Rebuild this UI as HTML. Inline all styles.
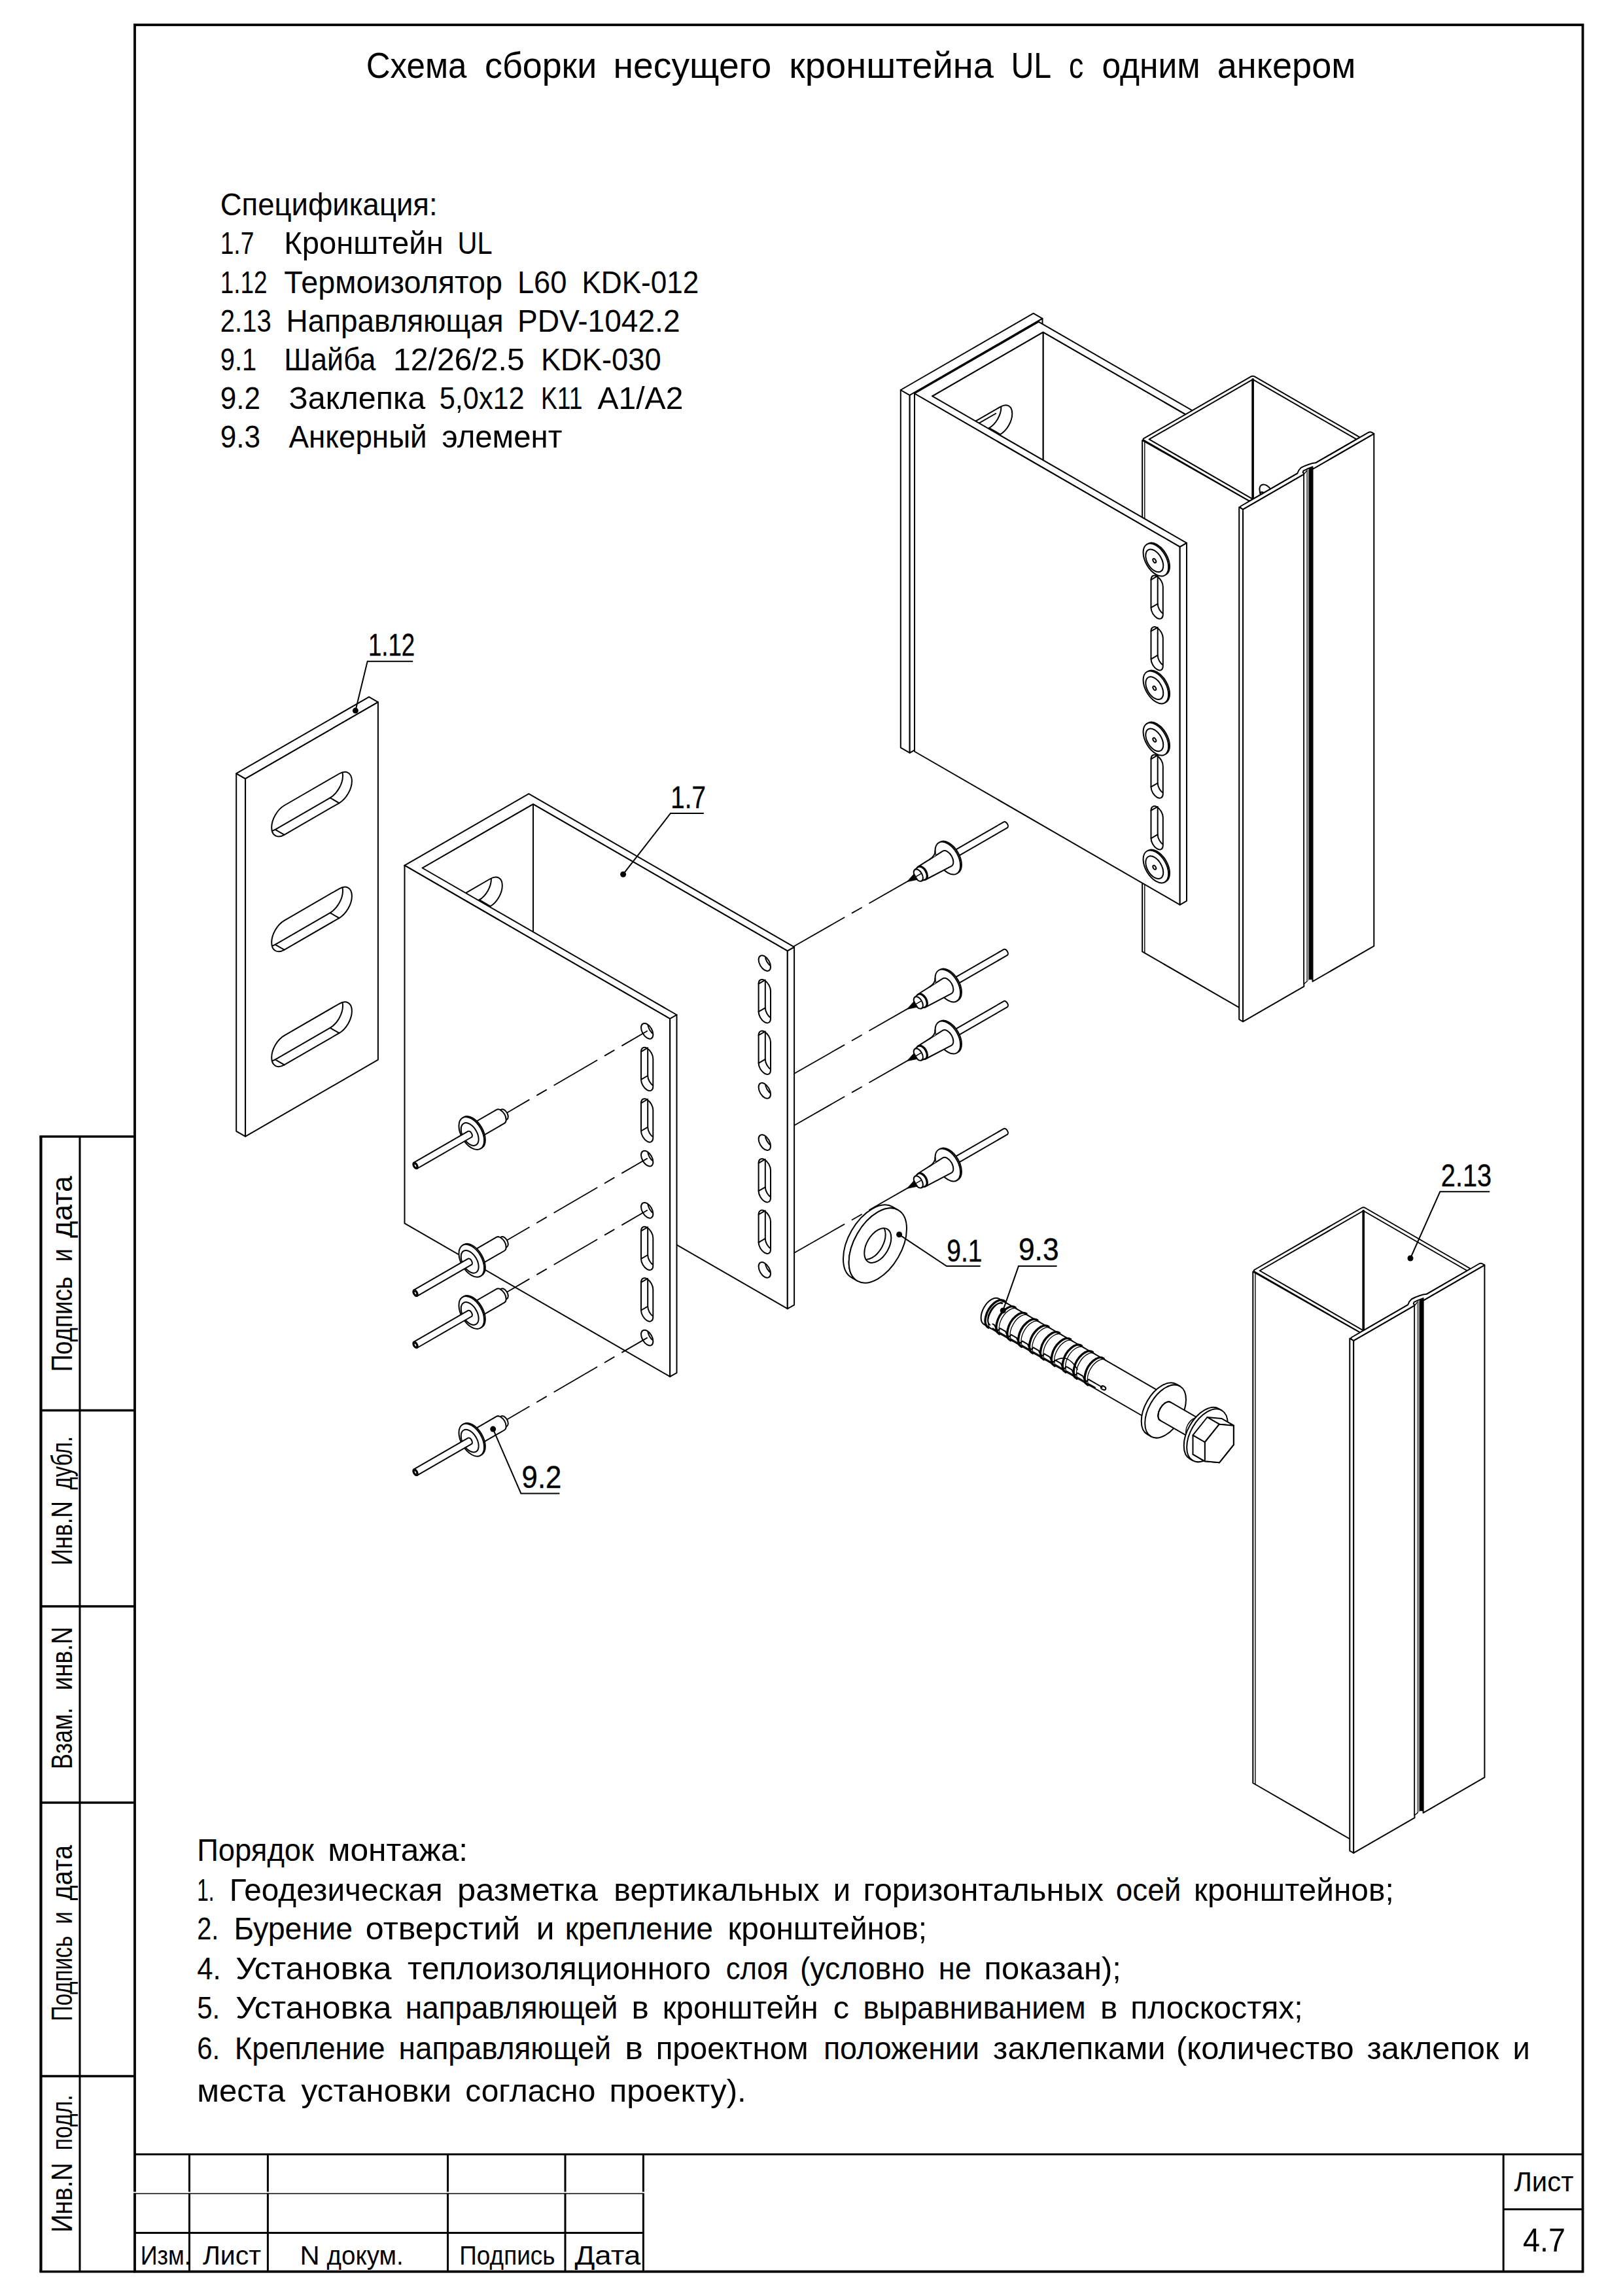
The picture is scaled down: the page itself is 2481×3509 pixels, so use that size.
<!DOCTYPE html>
<html lang="ru"><head><meta charset="utf-8"><title>Схема сборки несущего кронштейна UL с одним анкером</title>
<style>html,body{margin:0;padding:0;background:#fff}svg{display:block}</style></head>
<body>
<svg width="2481" height="3509" viewBox="0 0 2481 3509">
<rect width="2481" height="3509" fill="#fff"/>
<g stroke="#000" stroke-width="3" fill="none" stroke-linecap="butt">
<rect x="206" y="38" width="2213.5" height="3433.7" stroke-width="3.8"/>
<path d="M206,3292.5 H2419.5 M206,3412.5 H983.4 M2298.2,3292.5 V3471.7 M2298.2,3376.5 H2419.5"/>
<path d="M289.5,3292.5 V3471.7 M409.4,3292.5 V3471.7 M684.5,3292.5 V3471.7 M864,3292.5 V3471.7 M983.4,3292.5 V3471.7"/>
<path d="M60.4,1737 H206 M62.5,2155.5 H206 M62.5,2455 H206 M62.5,2755 H206 M62.5,3173 H206 M60.4,3471.7 H206" stroke-width="3.4"/>
<path d="M62.5,1737 V3471.7" stroke-width="4.2"/>
<path d="M122,1737 V3471.7" stroke-width="3"/>
<path d="M204,3350.7 H985" stroke="#fff" stroke-width="2"/>
<path d="M204,3352.5 H983.4" stroke-width="1.6"/>
</g>
<g font-family="Liberation Sans, sans-serif" fill="#000">
<text y="119.3" font-size="55"><tspan x="559.7" textLength="153.8" lengthAdjust="spacingAndGlyphs">Схема</tspan> <tspan x="741" textLength="171.2" lengthAdjust="spacingAndGlyphs">сборки</tspan> <tspan x="937.5" textLength="241.8" lengthAdjust="spacingAndGlyphs">несущего</tspan> <tspan x="1206.3" textLength="312.6" lengthAdjust="spacingAndGlyphs">кронштейна</tspan> <tspan x="1545.4" textLength="60.1" lengthAdjust="spacingAndGlyphs">UL</tspan> <tspan x="1634.1" textLength="22.3" lengthAdjust="spacingAndGlyphs">с</tspan> <tspan x="1684.4" textLength="150.4" lengthAdjust="spacingAndGlyphs">одним</tspan> <tspan x="1860.8" textLength="211.6" lengthAdjust="spacingAndGlyphs">анкером</tspan></text>
<text y="329.1" font-size="49"><tspan x="336.7" textLength="331.9" lengthAdjust="spacingAndGlyphs">Спецификация:</tspan></text>
<text y="388.3" font-size="49"><tspan x="336.7" textLength="51.7" lengthAdjust="spacingAndGlyphs">1.7</tspan> <tspan x="434.3" textLength="243.4" lengthAdjust="spacingAndGlyphs">Кронштейн</tspan> <tspan x="699.6" textLength="53.1" lengthAdjust="spacingAndGlyphs">UL</tspan></text>
<text y="447.5" font-size="49"><tspan x="336.7" textLength="71.9" lengthAdjust="spacingAndGlyphs">1.12</tspan> <tspan x="434.3" textLength="333.7" lengthAdjust="spacingAndGlyphs">Термоизолятор</tspan> <tspan x="790.9" textLength="75.7" lengthAdjust="spacingAndGlyphs">L60</tspan> <tspan x="889.4" textLength="179" lengthAdjust="spacingAndGlyphs">KDK-012</tspan></text>
<text y="506.7" font-size="49"><tspan x="336.7" textLength="78.1" lengthAdjust="spacingAndGlyphs">2.13</tspan> <tspan x="437.6" textLength="331.9" lengthAdjust="spacingAndGlyphs">Направляющая</tspan> <tspan x="790.9" textLength="248.7" lengthAdjust="spacingAndGlyphs">PDV-1042.2</tspan></text>
<text y="565.9" font-size="49"><tspan x="336.7" textLength="55.5" lengthAdjust="spacingAndGlyphs">9.1</tspan> <tspan x="434.3" textLength="140.1" lengthAdjust="spacingAndGlyphs">Шайба</tspan> <tspan x="601" textLength="200.7" lengthAdjust="spacingAndGlyphs">12/26/2.5</tspan> <tspan x="826.9" textLength="183.8" lengthAdjust="spacingAndGlyphs">KDK-030</tspan></text>
<text y="625.1" font-size="49"><tspan x="336.7" textLength="61.3" lengthAdjust="spacingAndGlyphs">9.2</tspan> <tspan x="441.5" textLength="208.8" lengthAdjust="spacingAndGlyphs">Заклепка</tspan> <tspan x="671.7" textLength="130" lengthAdjust="spacingAndGlyphs">5,0x12</tspan> <tspan x="826.9" textLength="63.7" lengthAdjust="spacingAndGlyphs">K11</tspan> <tspan x="913.4" textLength="131" lengthAdjust="spacingAndGlyphs">A1/A2</tspan></text>
<text y="684.3" font-size="49"><tspan x="336.7" textLength="61.3" lengthAdjust="spacingAndGlyphs">9.3</tspan> <tspan x="441.5" textLength="211.2" lengthAdjust="spacingAndGlyphs">Анкерный</tspan> <tspan x="675.5" textLength="183.9" lengthAdjust="spacingAndGlyphs">элемент</tspan></text>
<text y="2844.4" font-size="49"><tspan x="301.2" textLength="178.8" lengthAdjust="spacingAndGlyphs">Порядок</tspan> <tspan x="501.2" textLength="214" lengthAdjust="spacingAndGlyphs">монтажа:</tspan></text>
<text y="2904.7" font-size="49"><tspan x="301.2" textLength="26.3" lengthAdjust="spacingAndGlyphs">1.</tspan> <tspan x="350.7" textLength="325.9" lengthAdjust="spacingAndGlyphs">Геодезическая</tspan> <tspan x="699.1" textLength="214.7" lengthAdjust="spacingAndGlyphs">разметка</tspan> <tspan x="938.3" textLength="314.4" lengthAdjust="spacingAndGlyphs">вертикальных</tspan> <tspan x="1273.8" textLength="26.3" lengthAdjust="spacingAndGlyphs">и</tspan> <tspan x="1319.5" textLength="367.3" lengthAdjust="spacingAndGlyphs">горизонтальных</tspan> <tspan x="1705.8" textLength="99.6" lengthAdjust="spacingAndGlyphs">осей</tspan> <tspan x="1825.1" textLength="305.6" lengthAdjust="spacingAndGlyphs">кронштейнов;</tspan></text>
<text y="2964.3" font-size="49"><tspan x="301.2" textLength="33.1" lengthAdjust="spacingAndGlyphs">2.</tspan> <tspan x="357.5" textLength="181.5" lengthAdjust="spacingAndGlyphs">Бурение</tspan> <tspan x="558.8" textLength="236.4" lengthAdjust="spacingAndGlyphs">отверстий</tspan> <tspan x="819.7" textLength="27.7" lengthAdjust="spacingAndGlyphs">и</tspan> <tspan x="863.7" textLength="226.3" lengthAdjust="spacingAndGlyphs">крепление</tspan> <tspan x="1112.5" textLength="304.5" lengthAdjust="spacingAndGlyphs">кронштейнов;</tspan></text>
<text y="3025.3" font-size="49"><tspan x="301.2" textLength="36.5" lengthAdjust="spacingAndGlyphs">4.</tspan> <tspan x="360.2" textLength="238.5" lengthAdjust="spacingAndGlyphs">Установка</tspan> <tspan x="623.1" textLength="463.5" lengthAdjust="spacingAndGlyphs">теплоизоляционного</tspan> <tspan x="1109.7" textLength="95.5" lengthAdjust="spacingAndGlyphs">слоя</tspan> <tspan x="1222.9" textLength="190.7" lengthAdjust="spacingAndGlyphs">(условно</tspan> <tspan x="1434.7" textLength="50.1" lengthAdjust="spacingAndGlyphs">не</tspan> <tspan x="1504.5" textLength="209.4" lengthAdjust="spacingAndGlyphs">показан);</tspan></text>
<text y="3085" font-size="49"><tspan x="301.2" textLength="35.1" lengthAdjust="spacingAndGlyphs">5.</tspan> <tspan x="360.2" textLength="238.5" lengthAdjust="spacingAndGlyphs">Установка</tspan> <tspan x="619.8" textLength="324.5" lengthAdjust="spacingAndGlyphs">направляющей</tspan> <tspan x="965.4" textLength="26.3" lengthAdjust="spacingAndGlyphs">в</tspan> <tspan x="1012.8" textLength="237.8" lengthAdjust="spacingAndGlyphs">кронштейн</tspan> <tspan x="1273.8" textLength="24.3" lengthAdjust="spacingAndGlyphs">с</tspan> <tspan x="1319.5" textLength="340.1" lengthAdjust="spacingAndGlyphs">выравниванием</tspan> <tspan x="1682.1" textLength="26.3" lengthAdjust="spacingAndGlyphs">в</tspan> <tspan x="1728.2" textLength="263.5" lengthAdjust="spacingAndGlyphs">плоскостях;</tspan></text>
<text y="3146.7" font-size="49"><tspan x="301.2" textLength="35.1" lengthAdjust="spacingAndGlyphs">6.</tspan> <tspan x="358.8" textLength="229.7" lengthAdjust="spacingAndGlyphs">Крепление</tspan> <tspan x="609.6" textLength="324.5" lengthAdjust="spacingAndGlyphs">направляющей</tspan> <tspan x="955.2" textLength="27.7" lengthAdjust="spacingAndGlyphs">в</tspan> <tspan x="1002.7" textLength="233" lengthAdjust="spacingAndGlyphs">проектном</tspan> <tspan x="1258.9" textLength="238.1" lengthAdjust="spacingAndGlyphs">положении</tspan> <tspan x="1518.1" textLength="263.5" lengthAdjust="spacingAndGlyphs">заклепками</tspan> <tspan x="1798" textLength="271.7" lengthAdjust="spacingAndGlyphs">(количество</tspan> <tspan x="2089.4" textLength="201.9" lengthAdjust="spacingAndGlyphs">заклепок</tspan> <tspan x="2312.4" textLength="26.3" lengthAdjust="spacingAndGlyphs">и</tspan></text>
<text y="3212.4" font-size="49"><tspan x="301.2" textLength="134.8" lengthAdjust="spacingAndGlyphs">места</tspan> <tspan x="460.5" textLength="229.6" lengthAdjust="spacingAndGlyphs">установки</tspan> <tspan x="711.2" textLength="199.2" lengthAdjust="spacingAndGlyphs">согласно</tspan> <tspan x="931.5" textLength="209.3" lengthAdjust="spacingAndGlyphs">проекту).</tspan></text>
<text y="3460.5" font-size="41"><tspan x="214.7" textLength="77.2" lengthAdjust="spacingAndGlyphs">Изм.</tspan></text>
<text y="3460.5" font-size="41"><tspan x="309.9" textLength="89.3" lengthAdjust="spacingAndGlyphs">Лист</tspan></text>
<text y="3460.5" font-size="41"><tspan x="458.4" textLength="30.1" lengthAdjust="spacingAndGlyphs">N</tspan> <tspan x="499.5" textLength="117.3" lengthAdjust="spacingAndGlyphs">докум.</tspan></text>
<text y="3460.5" font-size="41"><tspan x="702.3" textLength="146.3" lengthAdjust="spacingAndGlyphs">Подпись</tspan></text>
<text y="3460.5" font-size="41"><tspan x="878.5" textLength="100.9" lengthAdjust="spacingAndGlyphs">Дата</tspan></text>
<text y="3348.8" font-size="42.6"><tspan x="2314.4" textLength="91" lengthAdjust="spacingAndGlyphs">Лист</tspan></text>
<text y="3441.2" font-size="50"><tspan x="2327.9" textLength="65.1" lengthAdjust="spacingAndGlyphs">4.7</tspan></text>
<text transform="translate(110.3 0) rotate(-90)" y="0" font-size="44"><tspan x="-2096.6" textLength="145.6" lengthAdjust="spacingAndGlyphs">Подпись</tspan> <tspan x="-1928.3" textLength="19.9" lengthAdjust="spacingAndGlyphs">и</tspan> <tspan x="-1891.9" textLength="94.8" lengthAdjust="spacingAndGlyphs">дата</tspan></text>
<text transform="translate(110.3 0) rotate(-90)" y="0" font-size="44"><tspan x="-2392.3" textLength="98.1" lengthAdjust="spacingAndGlyphs">Инв.N</tspan> <tspan x="-2276.5" textLength="81.5" lengthAdjust="spacingAndGlyphs">дубл.</tspan></text>
<text transform="translate(110.3 0) rotate(-90)" y="0" font-size="44"><tspan x="-2704" textLength="94.4" lengthAdjust="spacingAndGlyphs">Взам.</tspan> <tspan x="-2583.2" textLength="96.8" lengthAdjust="spacingAndGlyphs">инв.N</tspan></text>
<text transform="translate(110.3 0) rotate(-90)" y="0" font-size="44"><tspan x="-3089" textLength="130.5" lengthAdjust="spacingAndGlyphs">Подпись</tspan> <tspan x="-2940.7" textLength="19.5" lengthAdjust="spacingAndGlyphs">и</tspan> <tspan x="-2904.5" textLength="84.7" lengthAdjust="spacingAndGlyphs">дата</tspan></text>
<text transform="translate(110.3 0) rotate(-90)" y="0" font-size="44"><tspan x="-3411.8" textLength="106.5" lengthAdjust="spacingAndGlyphs">Инв.N</tspan> <tspan x="-3286.2" textLength="84.7" lengthAdjust="spacingAndGlyphs">подл.</tspan></text>
</g>
<g stroke="#000" stroke-width="2" fill="none" stroke-linejoin="round" stroke-linecap="round">
<path d="M1376.8,596 L1390.7,604 L1390.7,1150.6 L1376.8,1142.6 Z" fill="#fff"/>
<path d="M1376.8,596 L1579.7,478.9 L1593.5,486.9 L1390.7,604 Z" fill="#fff"/>
<path d="M1390.7,604 L1593.5,486.9 L1593.5,1033.5 L1390.7,1150.6 Z" fill="#fff"/>
<clipPath id="c1"><path d="M1534.1,596.3 A27.4 15.8 -60 0 1 1553.5,607.5 A27.4 15.8 -60 0 1 1534.1,641.1 L1450.2,689.6 A27.4 15.8 -60 0 1 1430.8,678.4 A27.4 15.8 -60 0 1 1450.2,644.8 Z"/></clipPath>
<path d="M1534.1,596.3 A27.4 15.8 -60 0 1 1553.5,607.5 A27.4 15.8 -60 0 1 1534.1,641.1 L1450.2,689.6 A27.4 15.8 -60 0 1 1430.8,678.4 A27.4 15.8 -60 0 1 1450.2,644.8 Z" fill="#fff"/>
<g clip-path="url(#c1)"><path d="M1534.1,596.3 A27.4 15.8 -60 0 1 1553.5,607.5 A27.4 15.8 -60 0 1 1534.1,641.1 L1450.2,689.6 A27.4 15.8 -60 0 1 1430.8,678.4 A27.4 15.8 -60 0 1 1450.2,644.8 Z" transform="translate(-13.9 -8)"/></g>
<path d="M1534.1,641.1 L1520.2,633.1"/>
<path d="M1450.2,689.6 L1436.3,681.6"/>
<clipPath id="c2"><path d="M1534.1,772.1 A27.4 15.8 -60 0 1 1553.5,783.3 A27.4 15.8 -60 0 1 1534.1,816.9 L1450.2,865.4 A27.4 15.8 -60 0 1 1430.8,854.2 A27.4 15.8 -60 0 1 1450.2,820.6 Z"/></clipPath>
<path d="M1534.1,772.1 A27.4 15.8 -60 0 1 1553.5,783.3 A27.4 15.8 -60 0 1 1534.1,816.9 L1450.2,865.4 A27.4 15.8 -60 0 1 1430.8,854.2 A27.4 15.8 -60 0 1 1450.2,820.6 Z" fill="#fff"/>
<g clip-path="url(#c2)"><path d="M1534.1,772.1 A27.4 15.8 -60 0 1 1553.5,783.3 A27.4 15.8 -60 0 1 1534.1,816.9 L1450.2,865.4 A27.4 15.8 -60 0 1 1430.8,854.2 A27.4 15.8 -60 0 1 1450.2,820.6 Z" transform="translate(-13.9 -8)"/></g>
<path d="M1534.1,816.9 L1520.2,808.9"/>
<path d="M1450.2,865.4 L1436.3,857.4"/>
<clipPath id="c3"><path d="M1534.1,947.9 A27.4 15.8 -60 0 1 1553.5,959.1 A27.4 15.8 -60 0 1 1534.1,992.7 L1450.2,1041.2 A27.4 15.8 -60 0 1 1430.8,1030 A27.4 15.8 -60 0 1 1450.2,996.4 Z"/></clipPath>
<path d="M1534.1,947.9 A27.4 15.8 -60 0 1 1553.5,959.1 A27.4 15.8 -60 0 1 1534.1,992.7 L1450.2,1041.2 A27.4 15.8 -60 0 1 1430.8,1030 A27.4 15.8 -60 0 1 1450.2,996.4 Z" fill="#fff"/>
<g clip-path="url(#c3)"><path d="M1534.1,947.9 A27.4 15.8 -60 0 1 1553.5,959.1 A27.4 15.8 -60 0 1 1534.1,992.7 L1450.2,1041.2 A27.4 15.8 -60 0 1 1430.8,1030 A27.4 15.8 -60 0 1 1450.2,996.4 Z" transform="translate(-13.9 -8)"/></g>
<path d="M1534.1,992.7 L1520.2,984.7"/>
<path d="M1450.2,1041.2 L1436.3,1033.2"/>
<path d="M1594.5,507.6 L1983.3,732 L1983.3,1279 L1594.5,1054.5 Z" fill="#fff"/>
<clipPath id="c4"><ellipse rx="13" ry="7.5" transform="translate(1948.3 750.9) rotate(60)"/></clipPath>
<ellipse rx="13" ry="7.5" transform="translate(1948.3 750.9) rotate(60)" fill="#fff"/>
<g clip-path="url(#c4)">
<ellipse rx="13" ry="7.5" transform="translate(1958.5 745) rotate(60)"/>
</g>
<clipPath id="c5"><path d="M1957.5,835.6 A13 7.5 60 0 1 1948.3,840.9 A13 7.5 60 0 1 1939.1,825 L1939.1,782.4 A13 7.5 60 0 1 1948.3,777.1 A13 7.5 60 0 1 1957.5,793 Z"/></clipPath>
<path d="M1957.5,835.6 A13 7.5 60 0 1 1948.3,840.9 A13 7.5 60 0 1 1939.1,825 L1939.1,782.4 A13 7.5 60 0 1 1948.3,777.1 A13 7.5 60 0 1 1957.5,793 Z" fill="#fff"/>
<g clip-path="url(#c5)"><path d="M1957.5,835.6 A13 7.5 60 0 1 1948.3,840.9 A13 7.5 60 0 1 1939.1,825 L1939.1,782.4 A13 7.5 60 0 1 1948.3,777.1 A13 7.5 60 0 1 1957.5,793 Z" transform="translate(10.2 -5.9)"/></g>
<path d="M1939.1,782.4 L1949.3,776.5"/>
<path d="M1939.1,825 L1949.3,819.1"/>
<clipPath id="c6"><path d="M1957.5,914.2 A13 7.5 60 0 1 1948.3,919.5 A13 7.5 60 0 1 1939.1,903.6 L1939.1,861 A13 7.5 60 0 1 1948.3,855.7 A13 7.5 60 0 1 1957.5,871.6 Z"/></clipPath>
<path d="M1957.5,914.2 A13 7.5 60 0 1 1948.3,919.5 A13 7.5 60 0 1 1939.1,903.6 L1939.1,861 A13 7.5 60 0 1 1948.3,855.7 A13 7.5 60 0 1 1957.5,871.6 Z" fill="#fff"/>
<g clip-path="url(#c6)"><path d="M1957.5,914.2 A13 7.5 60 0 1 1948.3,919.5 A13 7.5 60 0 1 1939.1,903.6 L1939.1,861 A13 7.5 60 0 1 1948.3,855.7 A13 7.5 60 0 1 1957.5,871.6 Z" transform="translate(10.2 -5.9)"/></g>
<path d="M1939.1,861 L1949.3,855.1"/>
<path d="M1939.1,903.6 L1949.3,897.7"/>
<clipPath id="c7"><ellipse rx="13" ry="7.5" transform="translate(1948.3 945.7) rotate(60)"/></clipPath>
<ellipse rx="13" ry="7.5" transform="translate(1948.3 945.7) rotate(60)" fill="#fff"/>
<g clip-path="url(#c7)">
<ellipse rx="13" ry="7.5" transform="translate(1958.5 939.8) rotate(60)"/>
</g>
<clipPath id="c8"><ellipse rx="13" ry="7.5" transform="translate(1948.3 1024.9) rotate(60)"/></clipPath>
<ellipse rx="13" ry="7.5" transform="translate(1948.3 1024.9) rotate(60)" fill="#fff"/>
<g clip-path="url(#c8)">
<ellipse rx="13" ry="7.5" transform="translate(1958.5 1019) rotate(60)"/>
</g>
<clipPath id="c9"><path d="M1957.5,1109.6 A13 7.5 60 0 1 1948.3,1114.9 A13 7.5 60 0 1 1939.1,1099 L1939.1,1056.4 A13 7.5 60 0 1 1948.3,1051.1 A13 7.5 60 0 1 1957.5,1067 Z"/></clipPath>
<path d="M1957.5,1109.6 A13 7.5 60 0 1 1948.3,1114.9 A13 7.5 60 0 1 1939.1,1099 L1939.1,1056.4 A13 7.5 60 0 1 1948.3,1051.1 A13 7.5 60 0 1 1957.5,1067 Z" fill="#fff"/>
<g clip-path="url(#c9)"><path d="M1957.5,1109.6 A13 7.5 60 0 1 1948.3,1114.9 A13 7.5 60 0 1 1939.1,1099 L1939.1,1056.4 A13 7.5 60 0 1 1948.3,1051.1 A13 7.5 60 0 1 1957.5,1067 Z" transform="translate(10.2 -5.9)"/></g>
<path d="M1939.1,1056.4 L1949.3,1050.5"/>
<path d="M1939.1,1099 L1949.3,1093.1"/>
<clipPath id="c10"><path d="M1957.5,1188.2 A13 7.5 60 0 1 1948.3,1193.5 A13 7.5 60 0 1 1939.1,1177.6 L1939.1,1135 A13 7.5 60 0 1 1948.3,1129.7 A13 7.5 60 0 1 1957.5,1145.6 Z"/></clipPath>
<path d="M1957.5,1188.2 A13 7.5 60 0 1 1948.3,1193.5 A13 7.5 60 0 1 1939.1,1177.6 L1939.1,1135 A13 7.5 60 0 1 1948.3,1129.7 A13 7.5 60 0 1 1957.5,1145.6 Z" fill="#fff"/>
<g clip-path="url(#c10)"><path d="M1957.5,1188.2 A13 7.5 60 0 1 1948.3,1193.5 A13 7.5 60 0 1 1939.1,1177.6 L1939.1,1135 A13 7.5 60 0 1 1948.3,1129.7 A13 7.5 60 0 1 1957.5,1145.6 Z" transform="translate(10.2 -5.9)"/></g>
<path d="M1939.1,1135 L1949.3,1129.1"/>
<path d="M1939.1,1177.6 L1949.3,1171.7"/>
<clipPath id="c11"><ellipse rx="13" ry="7.5" transform="translate(1948.3 1219.7) rotate(60)"/></clipPath>
<ellipse rx="13" ry="7.5" transform="translate(1948.3 1219.7) rotate(60)" fill="#fff"/>
<g clip-path="url(#c11)">
<ellipse rx="13" ry="7.5" transform="translate(1958.5 1213.8) rotate(60)"/>
</g>
<path d="M1425.1,605.4 L1594.5,507.6 L1594.5,1054.5 L1425.1,1152.3 Z" fill="#fff"/>
<clipPath id="c12"><path d="M1425.1,605.4 L1594.5,507.6 L1594.5,1054.5 L1425.1,1152.3 Z"/></clipPath><g clip-path="url(#c12)">
<clipPath id="c13"><path d="M1529.1,621.8 A25.7 14.8 -60 0 1 1547.3,632.3 A25.7 14.8 -60 0 1 1529.1,663.8 L1490.5,686.1 A25.7 14.8 -60 0 1 1472.3,675.6 A25.7 14.8 -60 0 1 1490.5,644.1 Z"/></clipPath>
<path d="M1529.1,621.8 A25.7 14.8 -60 0 1 1547.3,632.3 A25.7 14.8 -60 0 1 1529.1,663.8 L1490.5,686.1 A25.7 14.8 -60 0 1 1472.3,675.6 A25.7 14.8 -60 0 1 1490.5,644.1 Z" fill="#fff"/>
<g clip-path="url(#c13)"><path d="M1529.1,621.8 A25.7 14.8 -60 0 1 1547.3,632.3 A25.7 14.8 -60 0 1 1529.1,663.8 L1490.5,686.1 A25.7 14.8 -60 0 1 1472.3,675.6 A25.7 14.8 -60 0 1 1490.5,644.1 Z" transform="translate(-16.9 -9.8)"/></g>
<path d="M1529.1,663.8 L1512.2,654.1"/>
<path d="M1490.5,686.1 L1473.6,676.4"/>
<clipPath id="c14"><path d="M1529.1,797.6 A25.7 14.8 -60 0 1 1547.3,808.1 A25.7 14.8 -60 0 1 1529.1,839.6 L1490.5,861.9 A25.7 14.8 -60 0 1 1472.3,851.4 A25.7 14.8 -60 0 1 1490.5,819.9 Z"/></clipPath>
<path d="M1529.1,797.6 A25.7 14.8 -60 0 1 1547.3,808.1 A25.7 14.8 -60 0 1 1529.1,839.6 L1490.5,861.9 A25.7 14.8 -60 0 1 1472.3,851.4 A25.7 14.8 -60 0 1 1490.5,819.9 Z" fill="#fff"/>
<g clip-path="url(#c14)"><path d="M1529.1,797.6 A25.7 14.8 -60 0 1 1547.3,808.1 A25.7 14.8 -60 0 1 1529.1,839.6 L1490.5,861.9 A25.7 14.8 -60 0 1 1472.3,851.4 A25.7 14.8 -60 0 1 1490.5,819.9 Z" transform="translate(-16.9 -9.8)"/></g>
<path d="M1529.1,839.6 L1512.2,829.9"/>
<path d="M1490.5,861.9 L1473.6,852.1"/>
<clipPath id="c15"><path d="M1529.1,973.4 A25.7 14.8 -60 0 1 1547.3,983.9 A25.7 14.8 -60 0 1 1529.1,1015.4 L1490.5,1037.7 A25.7 14.8 -60 0 1 1472.3,1027.2 A25.7 14.8 -60 0 1 1490.5,995.7 Z"/></clipPath>
<path d="M1529.1,973.4 A25.7 14.8 -60 0 1 1547.3,983.9 A25.7 14.8 -60 0 1 1529.1,1015.4 L1490.5,1037.7 A25.7 14.8 -60 0 1 1472.3,1027.2 A25.7 14.8 -60 0 1 1490.5,995.7 Z" fill="#fff"/>
<g clip-path="url(#c15)"><path d="M1529.1,973.4 A25.7 14.8 -60 0 1 1547.3,983.9 A25.7 14.8 -60 0 1 1529.1,1015.4 L1490.5,1037.7 A25.7 14.8 -60 0 1 1472.3,1027.2 A25.7 14.8 -60 0 1 1490.5,995.7 Z" transform="translate(-16.9 -9.8)"/></g>
<path d="M1529.1,1015.4 L1512.2,1005.7"/>
<path d="M1490.5,1037.7 L1473.6,1028"/>
</g>
<path d="M1983.3,732 L1993.6,726.1 L1993.6,1273.2 L1983.3,1279 Z" fill="#fff"/>
<path d="M1398,601.5 L1587.8,491.9 L1993.6,726.1 L1983.3,732 L1594.5,507.6 L1425.1,605.4 Z" fill="#fff" stroke="none"/>
<path d="M1398,601.5 L1587.8,491.9 L1993.6,726.1 L1983.3,732 L1594.5,507.6 L1425.1,605.4"/>
<path d="M1488,651.7 L1522.2,632"/>
<path d="M1909.9,765.9 L1748.8,672.9 Q1746.2,671.4 1748.8,669.9 L1912.5,575.4 Q1915.1,573.9 1917.7,575.4 L2078.8,668.4 Z" fill="#fff"/>
<path d="M1756.6,671.4 L1915.1,579.9 L2073.6,671.4 L1915.1,762.9 Z" fill="#fff"/>
<path d="M1915.1,579.9 L1915.1,762.9" stroke-width="3.6"/>
<ellipse rx="15.4" ry="8.9" transform="translate(1936.3 754.5) rotate(60)"/>
<ellipse rx="6.1" ry="3.5" transform="translate(1931.1 757.5) rotate(60)"/>
<path d="M1746.2,672.9 L1909.9,765.9 L1909.9,1548.9 L1746.2,1454.4 Z" fill="#fff"/>
<path d="M1749.8,674.9 L1749.8,1456.5" stroke-width="1.4"/>
<path d="M1894.2,775 L1900.1,778.4 L1900.1,1561.3 L1894.2,1558 Z" fill="#fff"/>
<path d="M1900.1,778.4 L1993.3,724.6 L1993.3,1503.6 L1993.3,1507.6 L1900.1,1561.3 Z" fill="#fff"/>
<path d="M2006.5,717 L2100.3,662.8 L2100.3,1445.8 L2006.5,1500 Z" fill="#fff"/>
<path d="M1993.3,724.6 L1998.1,718.8 L1998.1,1499.8 L1993.3,1503.6 Z" fill="#fff" stroke-width="1.4"/>
<path d="M1999.4,717.6 L1999.4,1498.6" stroke-width="3" stroke="#888" stroke-linecap="butt"/>
<path d="M2003.4,715.2 L2003.4,1497.2" stroke-width="5" stroke-linecap="butt"/>
<path d="M1896.8,773.5 L1983.1,723.7 Q1984.8,718.1 1988.6,714.9 Q2001.3,708.2 2011.7,707.2 L2091.9,660.9 Q2094.5,659.4 2097.1,660.9 L2100.3,662.8 L2006.5,717 L2006.5,713.5 L1998.1,716.8 L1992.4,719.6 L1991.6,722.1 L1993.3,723.6 L1993.3,724.6 L1900.1,778.4 Q1894.2,775 1896.8,773.5 Z" fill="#fff"/>
<path d="M1398,601.5 L1425.1,605.4 L1814,829.9 L1803.7,835.8 Z" fill="#fff" stroke="none"/>
<path d="M1425.1,605.4 L1814,829.9 L1803.7,835.8 L1398,601.5"/>
<path d="M1398,601.5 L1803.7,835.8 L1803.7,1382.8 L1398,1148.5 Z" fill="#fff"/>
<clipPath id="c16"><ellipse rx="13" ry="7.5" transform="translate(1768.7 854.6) rotate(60)"/></clipPath>
<ellipse rx="13" ry="7.5" transform="translate(1768.7 854.6) rotate(60)" fill="#fff"/>
<g clip-path="url(#c16)">
<ellipse rx="13" ry="7.5" transform="translate(1778.9 848.7) rotate(60)"/>
</g>
<clipPath id="c17"><path d="M1777.8,939.3 A13 7.5 60 0 1 1768.7,944.6 A13 7.5 60 0 1 1759.5,928.7 L1759.5,886.1 A13 7.5 60 0 1 1768.7,880.8 A13 7.5 60 0 1 1777.8,896.7 Z"/></clipPath>
<path d="M1777.8,939.3 A13 7.5 60 0 1 1768.7,944.6 A13 7.5 60 0 1 1759.5,928.7 L1759.5,886.1 A13 7.5 60 0 1 1768.7,880.8 A13 7.5 60 0 1 1777.8,896.7 Z" fill="#fff"/>
<g clip-path="url(#c17)"><path d="M1777.8,939.3 A13 7.5 60 0 1 1768.7,944.6 A13 7.5 60 0 1 1759.5,928.7 L1759.5,886.1 A13 7.5 60 0 1 1768.7,880.8 A13 7.5 60 0 1 1777.8,896.7 Z" transform="translate(10.2 -5.9)"/></g>
<path d="M1759.5,886.1 L1769.7,880.2"/>
<path d="M1759.5,928.7 L1769.7,922.8"/>
<clipPath id="c18"><path d="M1777.8,1017.9 A13 7.5 60 0 1 1768.7,1023.2 A13 7.5 60 0 1 1759.5,1007.3 L1759.5,964.7 A13 7.5 60 0 1 1768.7,959.4 A13 7.5 60 0 1 1777.8,975.3 Z"/></clipPath>
<path d="M1777.8,1017.9 A13 7.5 60 0 1 1768.7,1023.2 A13 7.5 60 0 1 1759.5,1007.3 L1759.5,964.7 A13 7.5 60 0 1 1768.7,959.4 A13 7.5 60 0 1 1777.8,975.3 Z" fill="#fff"/>
<g clip-path="url(#c18)"><path d="M1777.8,1017.9 A13 7.5 60 0 1 1768.7,1023.2 A13 7.5 60 0 1 1759.5,1007.3 L1759.5,964.7 A13 7.5 60 0 1 1768.7,959.4 A13 7.5 60 0 1 1777.8,975.3 Z" transform="translate(10.2 -5.9)"/></g>
<path d="M1759.5,964.7 L1769.7,958.8"/>
<path d="M1759.5,1007.3 L1769.7,1001.4"/>
<clipPath id="c19"><ellipse rx="13" ry="7.5" transform="translate(1768.7 1049.4) rotate(60)"/></clipPath>
<ellipse rx="13" ry="7.5" transform="translate(1768.7 1049.4) rotate(60)" fill="#fff"/>
<g clip-path="url(#c19)">
<ellipse rx="13" ry="7.5" transform="translate(1778.9 1043.5) rotate(60)"/>
</g>
<clipPath id="c20"><ellipse rx="13" ry="7.5" transform="translate(1768.7 1128.6) rotate(60)"/></clipPath>
<ellipse rx="13" ry="7.5" transform="translate(1768.7 1128.6) rotate(60)" fill="#fff"/>
<g clip-path="url(#c20)">
<ellipse rx="13" ry="7.5" transform="translate(1778.9 1122.7) rotate(60)"/>
</g>
<clipPath id="c21"><path d="M1777.8,1213.3 A13 7.5 60 0 1 1768.7,1218.6 A13 7.5 60 0 1 1759.5,1202.7 L1759.5,1160.1 A13 7.5 60 0 1 1768.7,1154.8 A13 7.5 60 0 1 1777.8,1170.7 Z"/></clipPath>
<path d="M1777.8,1213.3 A13 7.5 60 0 1 1768.7,1218.6 A13 7.5 60 0 1 1759.5,1202.7 L1759.5,1160.1 A13 7.5 60 0 1 1768.7,1154.8 A13 7.5 60 0 1 1777.8,1170.7 Z" fill="#fff"/>
<g clip-path="url(#c21)"><path d="M1777.8,1213.3 A13 7.5 60 0 1 1768.7,1218.6 A13 7.5 60 0 1 1759.5,1202.7 L1759.5,1160.1 A13 7.5 60 0 1 1768.7,1154.8 A13 7.5 60 0 1 1777.8,1170.7 Z" transform="translate(10.2 -5.9)"/></g>
<path d="M1759.5,1160.1 L1769.7,1154.2"/>
<path d="M1759.5,1202.7 L1769.7,1196.8"/>
<clipPath id="c22"><path d="M1777.8,1291.9 A13 7.5 60 0 1 1768.7,1297.2 A13 7.5 60 0 1 1759.5,1281.3 L1759.5,1238.7 A13 7.5 60 0 1 1768.7,1233.4 A13 7.5 60 0 1 1777.8,1249.3 Z"/></clipPath>
<path d="M1777.8,1291.9 A13 7.5 60 0 1 1768.7,1297.2 A13 7.5 60 0 1 1759.5,1281.3 L1759.5,1238.7 A13 7.5 60 0 1 1768.7,1233.4 A13 7.5 60 0 1 1777.8,1249.3 Z" fill="#fff"/>
<g clip-path="url(#c22)"><path d="M1777.8,1291.9 A13 7.5 60 0 1 1768.7,1297.2 A13 7.5 60 0 1 1759.5,1281.3 L1759.5,1238.7 A13 7.5 60 0 1 1768.7,1233.4 A13 7.5 60 0 1 1777.8,1249.3 Z" transform="translate(10.2 -5.9)"/></g>
<path d="M1759.5,1238.7 L1769.7,1232.8"/>
<path d="M1759.5,1281.3 L1769.7,1275.4"/>
<clipPath id="c23"><ellipse rx="13" ry="7.5" transform="translate(1768.7 1323.4) rotate(60)"/></clipPath>
<ellipse rx="13" ry="7.5" transform="translate(1768.7 1323.4) rotate(60)" fill="#fff"/>
<g clip-path="url(#c23)">
<ellipse rx="13" ry="7.5" transform="translate(1778.9 1317.5) rotate(60)"/>
</g>
<path d="M1803.7,835.8 L1814,829.9 L1814,1376.8 L1803.7,1382.8 Z" fill="#fff"/>
<ellipse rx="27.3" ry="15.8" transform="translate(1768.7 854.6) rotate(60)" fill="#fff"/>
<ellipse rx="27.3" ry="15.8" transform="translate(1766.9 855.6) rotate(60)" fill="#fff"/>
<ellipse rx="19" ry="11" transform="translate(1764.8 856.9) rotate(60)"/>
<ellipse rx="3.4" ry="2" transform="translate(1764.8 856.9) rotate(60)"/>
<ellipse rx="27.3" ry="15.8" transform="translate(1768.7 1049.4) rotate(60)" fill="#fff"/>
<ellipse rx="27.3" ry="15.8" transform="translate(1766.9 1050.4) rotate(60)" fill="#fff"/>
<ellipse rx="19" ry="11" transform="translate(1764.8 1051.7) rotate(60)"/>
<ellipse rx="3.4" ry="2" transform="translate(1764.8 1051.7) rotate(60)"/>
<ellipse rx="27.3" ry="15.8" transform="translate(1768.7 1128.6) rotate(60)" fill="#fff"/>
<ellipse rx="27.3" ry="15.8" transform="translate(1766.9 1129.6) rotate(60)" fill="#fff"/>
<ellipse rx="19" ry="11" transform="translate(1764.8 1130.8) rotate(60)"/>
<ellipse rx="3.4" ry="2" transform="translate(1764.8 1130.8) rotate(60)"/>
<ellipse rx="27.3" ry="15.8" transform="translate(1768.7 1323.4) rotate(60)" fill="#fff"/>
<ellipse rx="27.3" ry="15.8" transform="translate(1766.9 1324.4) rotate(60)" fill="#fff"/>
<ellipse rx="19" ry="11" transform="translate(1764.8 1325.7) rotate(60)"/>
<ellipse rx="3.4" ry="2" transform="translate(1764.8 1325.7) rotate(60)"/>
<path d="M361.2,1182.2 L375.1,1190.2 L375.1,1736.8 L361.2,1728.8 Z" fill="#fff"/>
<path d="M361.2,1182.2 L564.1,1065.1 L577.9,1073.1 L375.1,1190.2 Z" fill="#fff"/>
<path d="M375.1,1190.2 L577.9,1073.1 L577.9,1619.7 L375.1,1736.8 Z" fill="#fff"/>
<clipPath id="c24"><path d="M518.5,1182.5 A27.4 15.8 -60 0 1 537.9,1193.7 A27.4 15.8 -60 0 1 518.5,1227.3 L434.6,1275.8 A27.4 15.8 -60 0 1 415.2,1264.6 A27.4 15.8 -60 0 1 434.6,1231 Z"/></clipPath>
<path d="M518.5,1182.5 A27.4 15.8 -60 0 1 537.9,1193.7 A27.4 15.8 -60 0 1 518.5,1227.3 L434.6,1275.8 A27.4 15.8 -60 0 1 415.2,1264.6 A27.4 15.8 -60 0 1 434.6,1231 Z" fill="#fff"/>
<g clip-path="url(#c24)"><path d="M518.5,1182.5 A27.4 15.8 -60 0 1 537.9,1193.7 A27.4 15.8 -60 0 1 518.5,1227.3 L434.6,1275.8 A27.4 15.8 -60 0 1 415.2,1264.6 A27.4 15.8 -60 0 1 434.6,1231 Z" transform="translate(-13.9 -8)"/></g>
<path d="M518.5,1227.3 L504.6,1219.3"/>
<path d="M434.6,1275.8 L420.7,1267.8"/>
<clipPath id="c25"><path d="M518.5,1358.3 A27.4 15.8 -60 0 1 537.9,1369.5 A27.4 15.8 -60 0 1 518.5,1403.1 L434.6,1451.6 A27.4 15.8 -60 0 1 415.2,1440.4 A27.4 15.8 -60 0 1 434.6,1406.8 Z"/></clipPath>
<path d="M518.5,1358.3 A27.4 15.8 -60 0 1 537.9,1369.5 A27.4 15.8 -60 0 1 518.5,1403.1 L434.6,1451.6 A27.4 15.8 -60 0 1 415.2,1440.4 A27.4 15.8 -60 0 1 434.6,1406.8 Z" fill="#fff"/>
<g clip-path="url(#c25)"><path d="M518.5,1358.3 A27.4 15.8 -60 0 1 537.9,1369.5 A27.4 15.8 -60 0 1 518.5,1403.1 L434.6,1451.6 A27.4 15.8 -60 0 1 415.2,1440.4 A27.4 15.8 -60 0 1 434.6,1406.8 Z" transform="translate(-13.9 -8)"/></g>
<path d="M518.5,1403.1 L504.6,1395.1"/>
<path d="M434.6,1451.6 L420.7,1443.6"/>
<clipPath id="c26"><path d="M518.5,1534.1 A27.4 15.8 -60 0 1 537.9,1545.3 A27.4 15.8 -60 0 1 518.5,1578.9 L434.6,1627.4 A27.4 15.8 -60 0 1 415.2,1616.2 A27.4 15.8 -60 0 1 434.6,1582.6 Z"/></clipPath>
<path d="M518.5,1534.1 A27.4 15.8 -60 0 1 537.9,1545.3 A27.4 15.8 -60 0 1 518.5,1578.9 L434.6,1627.4 A27.4 15.8 -60 0 1 415.2,1616.2 A27.4 15.8 -60 0 1 434.6,1582.6 Z" fill="#fff"/>
<g clip-path="url(#c26)"><path d="M518.5,1534.1 A27.4 15.8 -60 0 1 537.9,1545.3 A27.4 15.8 -60 0 1 518.5,1578.9 L434.6,1627.4 A27.4 15.8 -60 0 1 415.2,1616.2 A27.4 15.8 -60 0 1 434.6,1582.6 Z" transform="translate(-13.9 -8)"/></g>
<path d="M518.5,1578.9 L504.6,1570.9"/>
<path d="M434.6,1627.4 L420.7,1619.4"/>
<path d="M815,1228.8 L1203.8,1453.2 L1203.8,2000.2 L815,1775.8 Z" fill="#fff"/>
<clipPath id="c27"><ellipse rx="13" ry="7.5" transform="translate(1168.8 1472.1) rotate(60)"/></clipPath>
<ellipse rx="13" ry="7.5" transform="translate(1168.8 1472.1) rotate(60)" fill="#fff"/>
<g clip-path="url(#c27)">
<ellipse rx="13" ry="7.5" transform="translate(1179 1466.2) rotate(60)"/>
</g>
<clipPath id="c28"><path d="M1178,1556.8 A13 7.5 60 0 1 1168.8,1562.1 A13 7.5 60 0 1 1159.6,1546.2 L1159.6,1503.6 A13 7.5 60 0 1 1168.8,1498.3 A13 7.5 60 0 1 1178,1514.2 Z"/></clipPath>
<path d="M1178,1556.8 A13 7.5 60 0 1 1168.8,1562.1 A13 7.5 60 0 1 1159.6,1546.2 L1159.6,1503.6 A13 7.5 60 0 1 1168.8,1498.3 A13 7.5 60 0 1 1178,1514.2 Z" fill="#fff"/>
<g clip-path="url(#c28)"><path d="M1178,1556.8 A13 7.5 60 0 1 1168.8,1562.1 A13 7.5 60 0 1 1159.6,1546.2 L1159.6,1503.6 A13 7.5 60 0 1 1168.8,1498.3 A13 7.5 60 0 1 1178,1514.2 Z" transform="translate(10.2 -5.9)"/></g>
<path d="M1159.6,1503.6 L1169.8,1497.7"/>
<path d="M1159.6,1546.2 L1169.8,1540.3"/>
<clipPath id="c29"><path d="M1178,1635.4 A13 7.5 60 0 1 1168.8,1640.7 A13 7.5 60 0 1 1159.6,1624.8 L1159.6,1582.2 A13 7.5 60 0 1 1168.8,1576.9 A13 7.5 60 0 1 1178,1592.8 Z"/></clipPath>
<path d="M1178,1635.4 A13 7.5 60 0 1 1168.8,1640.7 A13 7.5 60 0 1 1159.6,1624.8 L1159.6,1582.2 A13 7.5 60 0 1 1168.8,1576.9 A13 7.5 60 0 1 1178,1592.8 Z" fill="#fff"/>
<g clip-path="url(#c29)"><path d="M1178,1635.4 A13 7.5 60 0 1 1168.8,1640.7 A13 7.5 60 0 1 1159.6,1624.8 L1159.6,1582.2 A13 7.5 60 0 1 1168.8,1576.9 A13 7.5 60 0 1 1178,1592.8 Z" transform="translate(10.2 -5.9)"/></g>
<path d="M1159.6,1582.2 L1169.8,1576.3"/>
<path d="M1159.6,1624.8 L1169.8,1618.9"/>
<clipPath id="c30"><ellipse rx="13" ry="7.5" transform="translate(1168.8 1666.9) rotate(60)"/></clipPath>
<ellipse rx="13" ry="7.5" transform="translate(1168.8 1666.9) rotate(60)" fill="#fff"/>
<g clip-path="url(#c30)">
<ellipse rx="13" ry="7.5" transform="translate(1179 1661) rotate(60)"/>
</g>
<clipPath id="c31"><ellipse rx="13" ry="7.5" transform="translate(1168.8 1746.1) rotate(60)"/></clipPath>
<ellipse rx="13" ry="7.5" transform="translate(1168.8 1746.1) rotate(60)" fill="#fff"/>
<g clip-path="url(#c31)">
<ellipse rx="13" ry="7.5" transform="translate(1179 1740.2) rotate(60)"/>
</g>
<clipPath id="c32"><path d="M1178,1830.8 A13 7.5 60 0 1 1168.8,1836.1 A13 7.5 60 0 1 1159.6,1820.2 L1159.6,1777.6 A13 7.5 60 0 1 1168.8,1772.3 A13 7.5 60 0 1 1178,1788.2 Z"/></clipPath>
<path d="M1178,1830.8 A13 7.5 60 0 1 1168.8,1836.1 A13 7.5 60 0 1 1159.6,1820.2 L1159.6,1777.6 A13 7.5 60 0 1 1168.8,1772.3 A13 7.5 60 0 1 1178,1788.2 Z" fill="#fff"/>
<g clip-path="url(#c32)"><path d="M1178,1830.8 A13 7.5 60 0 1 1168.8,1836.1 A13 7.5 60 0 1 1159.6,1820.2 L1159.6,1777.6 A13 7.5 60 0 1 1168.8,1772.3 A13 7.5 60 0 1 1178,1788.2 Z" transform="translate(10.2 -5.9)"/></g>
<path d="M1159.6,1777.6 L1169.8,1771.7"/>
<path d="M1159.6,1820.2 L1169.8,1814.3"/>
<clipPath id="c33"><path d="M1178,1909.4 A13 7.5 60 0 1 1168.8,1914.7 A13 7.5 60 0 1 1159.6,1898.8 L1159.6,1856.2 A13 7.5 60 0 1 1168.8,1850.9 A13 7.5 60 0 1 1178,1866.8 Z"/></clipPath>
<path d="M1178,1909.4 A13 7.5 60 0 1 1168.8,1914.7 A13 7.5 60 0 1 1159.6,1898.8 L1159.6,1856.2 A13 7.5 60 0 1 1168.8,1850.9 A13 7.5 60 0 1 1178,1866.8 Z" fill="#fff"/>
<g clip-path="url(#c33)"><path d="M1178,1909.4 A13 7.5 60 0 1 1168.8,1914.7 A13 7.5 60 0 1 1159.6,1898.8 L1159.6,1856.2 A13 7.5 60 0 1 1168.8,1850.9 A13 7.5 60 0 1 1178,1866.8 Z" transform="translate(10.2 -5.9)"/></g>
<path d="M1159.6,1856.2 L1169.8,1850.3"/>
<path d="M1159.6,1898.8 L1169.8,1892.9"/>
<clipPath id="c34"><ellipse rx="13" ry="7.5" transform="translate(1168.8 1940.9) rotate(60)"/></clipPath>
<ellipse rx="13" ry="7.5" transform="translate(1168.8 1940.9) rotate(60)" fill="#fff"/>
<g clip-path="url(#c34)">
<ellipse rx="13" ry="7.5" transform="translate(1179 1935) rotate(60)"/>
</g>
<path d="M645.6,1326.5 L815,1228.8 L815,1775.8 L645.6,1873.5 Z" fill="#fff"/>
<clipPath id="c35"><path d="M645.6,1326.5 L815,1228.8 L815,1775.8 L645.6,1873.5 Z"/></clipPath><g clip-path="url(#c35)">
<clipPath id="c36"><path d="M749.6,1343 A25.7 14.8 -60 0 1 767.8,1353.5 A25.7 14.8 -60 0 1 749.6,1385 L711,1407.3 A25.7 14.8 -60 0 1 692.8,1396.8 A25.7 14.8 -60 0 1 711,1365.3 Z"/></clipPath>
<path d="M749.6,1343 A25.7 14.8 -60 0 1 767.8,1353.5 A25.7 14.8 -60 0 1 749.6,1385 L711,1407.3 A25.7 14.8 -60 0 1 692.8,1396.8 A25.7 14.8 -60 0 1 711,1365.3 Z" fill="#fff"/>
<g clip-path="url(#c36)"><path d="M749.6,1343 A25.7 14.8 -60 0 1 767.8,1353.5 A25.7 14.8 -60 0 1 749.6,1385 L711,1407.3 A25.7 14.8 -60 0 1 692.8,1396.8 A25.7 14.8 -60 0 1 711,1365.3 Z" transform="translate(-16.9 -9.8)"/></g>
<path d="M749.6,1385 L732.7,1375.2"/>
<path d="M711,1407.3 L694.1,1397.6"/>
<clipPath id="c37"><path d="M749.6,1518.8 A25.7 14.8 -60 0 1 767.8,1529.3 A25.7 14.8 -60 0 1 749.6,1560.8 L711,1583.1 A25.7 14.8 -60 0 1 692.8,1572.6 A25.7 14.8 -60 0 1 711,1541.1 Z"/></clipPath>
<path d="M749.6,1518.8 A25.7 14.8 -60 0 1 767.8,1529.3 A25.7 14.8 -60 0 1 749.6,1560.8 L711,1583.1 A25.7 14.8 -60 0 1 692.8,1572.6 A25.7 14.8 -60 0 1 711,1541.1 Z" fill="#fff"/>
<g clip-path="url(#c37)"><path d="M749.6,1518.8 A25.7 14.8 -60 0 1 767.8,1529.3 A25.7 14.8 -60 0 1 749.6,1560.8 L711,1583.1 A25.7 14.8 -60 0 1 692.8,1572.6 A25.7 14.8 -60 0 1 711,1541.1 Z" transform="translate(-16.9 -9.8)"/></g>
<path d="M749.6,1560.8 L732.7,1551"/>
<path d="M711,1583.1 L694.1,1573.4"/>
<clipPath id="c38"><path d="M749.6,1694.6 A25.7 14.8 -60 0 1 767.8,1705.1 A25.7 14.8 -60 0 1 749.6,1736.6 L711,1758.9 A25.7 14.8 -60 0 1 692.8,1748.4 A25.7 14.8 -60 0 1 711,1716.9 Z"/></clipPath>
<path d="M749.6,1694.6 A25.7 14.8 -60 0 1 767.8,1705.1 A25.7 14.8 -60 0 1 749.6,1736.6 L711,1758.9 A25.7 14.8 -60 0 1 692.8,1748.4 A25.7 14.8 -60 0 1 711,1716.9 Z" fill="#fff"/>
<g clip-path="url(#c38)"><path d="M749.6,1694.6 A25.7 14.8 -60 0 1 767.8,1705.1 A25.7 14.8 -60 0 1 749.6,1736.6 L711,1758.9 A25.7 14.8 -60 0 1 692.8,1748.4 A25.7 14.8 -60 0 1 711,1716.9 Z" transform="translate(-16.9 -9.8)"/></g>
<path d="M749.6,1736.6 L732.7,1726.8"/>
<path d="M711,1758.9 L694.1,1749.2"/>
</g>
<path d="M1203.8,1453.2 L1214.1,1447.4 L1214.1,1994.4 L1203.8,2000.2 Z" fill="#fff"/>
<path d="M618.5,1322.7 L808.3,1213.1 L1214.1,1447.4 L1203.8,1453.2 L815,1228.8 L645.6,1326.5 Z" fill="#fff" stroke="none"/>
<path d="M618.5,1322.7 L808.3,1213.1 L1214.1,1447.4 L1203.8,1453.2 L815,1228.8 L645.6,1326.5"/>
<g stroke-width="1.8">
<path d="M1214.1,1446 L1290.5,1402.3 M1302.6,1395.4 L1317,1387.2 M1329.1,1380.2 L1405.5,1336.6"/>
</g>
<path d="M1448.8,1305.6 L1534.6,1256.1 A5.2 3 60 0 1 1539.8,1259.1 A5.2 3 60 0 1 1539.8,1265.1 L1454,1314.6 A5.2 3 60 0 1 1448.8,1311.6 A5.2 3 60 0 1 1448.8,1305.6 Z" fill="#fff"/>
<ellipse rx="27.3" ry="15.8" transform="translate(1450.6 1310.6) rotate(60)" fill="#fff"/>
<ellipse rx="27.3" ry="15.8" transform="translate(1448.8 1311.6) rotate(60)" fill="#fff"/>
<path d="M1403.3,1324.7 L1441.4,1300.6 A13.2 7.6 60 0 1 1454.6,1308.3 A13.2 7.6 60 0 1 1454.6,1323.6 L1414.7,1344.5 A11.4 6.6 60 0 1 1403.3,1337.9 A11.4 6.6 60 0 1 1403.3,1324.7 Z" fill="#fff"/>
<path d="M1403.3,1324.7 A11.4 6.6 60 0 1 1414.7,1331.3 A11.4 6.6 60 0 1 1414.7,1344.5"/>
<path d="M1421.1,1313.5 L1429.7,1307.9 L1429.5,1300.5 Z" fill="#fff" stroke="none"/>
<path d="M1421.1,1313.5 Q1429.7,1307.9 1429.5,1300.5"/>
<path d="M1404.6,1324 A11.4 6.6 60 0 1 1416,1330.6 A11.4 6.6 60 0 1 1416,1343.7" stroke-width="1.3"/>
<path d="M1398.8,1328.9 L1403.6,1325.2 A10.9 6.3 60 0 1 1414.5,1331.5 A10.9 6.3 60 0 1 1414.5,1344 L1408.8,1346.3 A10 5.8 60 0 1 1398.8,1340.5 A10 5.8 60 0 1 1398.8,1328.9 Z" fill="#fff"/>
<path d="M1398.8,1328.9 A10 5.8 60 0 1 1408.8,1334.7 A10 5.8 60 0 1 1408.8,1346.3"/>
<path d="M1396.9,1341.6 L1407.3,1335.6" stroke-width="1.6"/>
<path d="M1397.3,1335.4 L1386.5,1347.6 L1402.5,1344.3 Z" fill="#000" stroke-width="0.8"/>
<g stroke-width="1.8">
<path d="M1214.1,1640.8 L1290.5,1597.1 M1302.6,1590.2 L1317,1582 M1329.1,1575 L1405.5,1531.4"/>
</g>
<path d="M1448.8,1500.4 L1534.6,1450.9 A5.2 3 60 0 1 1539.8,1453.9 A5.2 3 60 0 1 1539.8,1459.9 L1454,1509.4 A5.2 3 60 0 1 1448.8,1506.4 A5.2 3 60 0 1 1448.8,1500.4 Z" fill="#fff"/>
<ellipse rx="27.3" ry="15.8" transform="translate(1450.6 1505.4) rotate(60)" fill="#fff"/>
<ellipse rx="27.3" ry="15.8" transform="translate(1448.8 1506.4) rotate(60)" fill="#fff"/>
<path d="M1403.3,1519.5 L1441.4,1495.4 A13.2 7.6 60 0 1 1454.6,1503.1 A13.2 7.6 60 0 1 1454.6,1518.4 L1414.7,1539.3 A11.4 6.6 60 0 1 1403.3,1532.7 A11.4 6.6 60 0 1 1403.3,1519.5 Z" fill="#fff"/>
<path d="M1403.3,1519.5 A11.4 6.6 60 0 1 1414.7,1526.1 A11.4 6.6 60 0 1 1414.7,1539.3"/>
<path d="M1421.1,1508.3 L1429.7,1502.7 L1429.5,1495.3 Z" fill="#fff" stroke="none"/>
<path d="M1421.1,1508.3 Q1429.7,1502.7 1429.5,1495.3"/>
<path d="M1404.6,1518.8 A11.4 6.6 60 0 1 1416,1525.4 A11.4 6.6 60 0 1 1416,1538.5" stroke-width="1.3"/>
<path d="M1398.8,1523.7 L1403.6,1520 A10.9 6.3 60 0 1 1414.5,1526.3 A10.9 6.3 60 0 1 1414.5,1538.8 L1408.8,1541.1 A10 5.8 60 0 1 1398.8,1535.3 A10 5.8 60 0 1 1398.8,1523.7 Z" fill="#fff"/>
<path d="M1398.8,1523.7 A10 5.8 60 0 1 1408.8,1529.5 A10 5.8 60 0 1 1408.8,1541.1"/>
<path d="M1396.9,1536.4 L1407.3,1530.4" stroke-width="1.6"/>
<path d="M1397.3,1530.2 L1386.5,1542.4 L1402.5,1539.1 Z" fill="#000" stroke-width="0.8"/>
<g stroke-width="1.8">
<path d="M1214.1,1720 L1290.5,1676.3 M1302.6,1669.4 L1317,1661.2 M1329.1,1654.2 L1405.5,1610.6"/>
</g>
<path d="M1448.8,1579.6 L1534.6,1530.1 A5.2 3 60 0 1 1539.8,1533.1 A5.2 3 60 0 1 1539.8,1539.1 L1454,1588.6 A5.2 3 60 0 1 1448.8,1585.6 A5.2 3 60 0 1 1448.8,1579.6 Z" fill="#fff"/>
<ellipse rx="27.3" ry="15.8" transform="translate(1450.6 1584.6) rotate(60)" fill="#fff"/>
<ellipse rx="27.3" ry="15.8" transform="translate(1448.8 1585.6) rotate(60)" fill="#fff"/>
<path d="M1403.3,1598.7 L1441.4,1574.6 A13.2 7.6 60 0 1 1454.6,1582.3 A13.2 7.6 60 0 1 1454.6,1597.6 L1414.7,1618.5 A11.4 6.6 60 0 1 1403.3,1611.9 A11.4 6.6 60 0 1 1403.3,1598.7 Z" fill="#fff"/>
<path d="M1403.3,1598.7 A11.4 6.6 60 0 1 1414.7,1605.3 A11.4 6.6 60 0 1 1414.7,1618.5"/>
<path d="M1421.1,1587.5 L1429.7,1581.9 L1429.5,1574.5 Z" fill="#fff" stroke="none"/>
<path d="M1421.1,1587.5 Q1429.7,1581.9 1429.5,1574.5"/>
<path d="M1404.6,1598 A11.4 6.6 60 0 1 1416,1604.6 A11.4 6.6 60 0 1 1416,1617.7" stroke-width="1.3"/>
<path d="M1398.8,1602.9 L1403.6,1599.2 A10.9 6.3 60 0 1 1414.5,1605.5 A10.9 6.3 60 0 1 1414.5,1618 L1408.8,1620.3 A10 5.8 60 0 1 1398.8,1614.5 A10 5.8 60 0 1 1398.8,1602.9 Z" fill="#fff"/>
<path d="M1398.8,1602.9 A10 5.8 60 0 1 1408.8,1608.7 A10 5.8 60 0 1 1408.8,1620.3"/>
<path d="M1396.9,1615.6 L1407.3,1609.6" stroke-width="1.6"/>
<path d="M1397.3,1609.4 L1386.5,1621.6 L1402.5,1618.3 Z" fill="#000" stroke-width="0.8"/>
<g stroke-width="1.8">
<path d="M1214.1,1914.8 L1290.5,1871.1 M1302.6,1864.2 L1317,1856 M1329.1,1849 L1405.5,1805.4"/>
</g>
<path d="M1448.8,1774.4 L1534.6,1724.9 A5.2 3 60 0 1 1539.8,1727.9 A5.2 3 60 0 1 1539.8,1733.9 L1454,1783.4 A5.2 3 60 0 1 1448.8,1780.4 A5.2 3 60 0 1 1448.8,1774.4 Z" fill="#fff"/>
<ellipse rx="27.3" ry="15.8" transform="translate(1450.6 1779.4) rotate(60)" fill="#fff"/>
<ellipse rx="27.3" ry="15.8" transform="translate(1448.8 1780.4) rotate(60)" fill="#fff"/>
<path d="M1403.3,1793.5 L1441.4,1769.4 A13.2 7.6 60 0 1 1454.6,1777.1 A13.2 7.6 60 0 1 1454.6,1792.4 L1414.7,1813.3 A11.4 6.6 60 0 1 1403.3,1806.7 A11.4 6.6 60 0 1 1403.3,1793.5 Z" fill="#fff"/>
<path d="M1403.3,1793.5 A11.4 6.6 60 0 1 1414.7,1800.1 A11.4 6.6 60 0 1 1414.7,1813.3"/>
<path d="M1421.1,1782.3 L1429.7,1776.7 L1429.5,1769.2 Z" fill="#fff" stroke="none"/>
<path d="M1421.1,1782.3 Q1429.7,1776.7 1429.5,1769.2"/>
<path d="M1404.6,1792.8 A11.4 6.6 60 0 1 1416,1799.4 A11.4 6.6 60 0 1 1416,1812.5" stroke-width="1.3"/>
<path d="M1398.8,1797.7 L1403.6,1794 A10.9 6.3 60 0 1 1414.5,1800.3 A10.9 6.3 60 0 1 1414.5,1812.8 L1408.8,1815.1 A10 5.8 60 0 1 1398.8,1809.3 A10 5.8 60 0 1 1398.8,1797.7 Z" fill="#fff"/>
<path d="M1398.8,1797.7 A10 5.8 60 0 1 1408.8,1803.5 A10 5.8 60 0 1 1408.8,1815.1"/>
<path d="M1396.9,1810.4 L1407.3,1804.4" stroke-width="1.6"/>
<path d="M1397.3,1804.2 L1386.5,1816.4 L1402.5,1813.1 Z" fill="#000" stroke-width="0.8"/>
<path d="M618.5,1322.7 L645.6,1326.5 L1034.5,1551 L1024.2,1557 Z" fill="#fff" stroke="none"/>
<path d="M645.6,1326.5 L1034.5,1551 L1024.2,1557 L618.5,1322.7"/>
<path d="M618.5,1322.7 L1024.2,1557 L1024.2,2103.9 L618.5,1869.7 Z" fill="#fff"/>
<clipPath id="c39"><ellipse rx="13" ry="7.5" transform="translate(989.2 1575.8) rotate(60)"/></clipPath>
<ellipse rx="13" ry="7.5" transform="translate(989.2 1575.8) rotate(60)" fill="#fff"/>
<g clip-path="url(#c39)">
<ellipse rx="13" ry="7.5" transform="translate(999.4 1569.9) rotate(60)"/>
</g>
<clipPath id="c40"><path d="M998.3,1660.5 A13 7.5 60 0 1 989.2,1665.8 A13 7.5 60 0 1 980,1649.9 L980,1607.3 A13 7.5 60 0 1 989.2,1602 A13 7.5 60 0 1 998.3,1617.9 Z"/></clipPath>
<path d="M998.3,1660.5 A13 7.5 60 0 1 989.2,1665.8 A13 7.5 60 0 1 980,1649.9 L980,1607.3 A13 7.5 60 0 1 989.2,1602 A13 7.5 60 0 1 998.3,1617.9 Z" fill="#fff"/>
<g clip-path="url(#c40)"><path d="M998.3,1660.5 A13 7.5 60 0 1 989.2,1665.8 A13 7.5 60 0 1 980,1649.9 L980,1607.3 A13 7.5 60 0 1 989.2,1602 A13 7.5 60 0 1 998.3,1617.9 Z" transform="translate(10.2 -5.9)"/></g>
<path d="M980,1607.3 L990.2,1601.4"/>
<path d="M980,1649.9 L990.2,1644"/>
<clipPath id="c41"><path d="M998.3,1739.1 A13 7.5 60 0 1 989.2,1744.4 A13 7.5 60 0 1 980,1728.5 L980,1685.9 A13 7.5 60 0 1 989.2,1680.6 A13 7.5 60 0 1 998.3,1696.5 Z"/></clipPath>
<path d="M998.3,1739.1 A13 7.5 60 0 1 989.2,1744.4 A13 7.5 60 0 1 980,1728.5 L980,1685.9 A13 7.5 60 0 1 989.2,1680.6 A13 7.5 60 0 1 998.3,1696.5 Z" fill="#fff"/>
<g clip-path="url(#c41)"><path d="M998.3,1739.1 A13 7.5 60 0 1 989.2,1744.4 A13 7.5 60 0 1 980,1728.5 L980,1685.9 A13 7.5 60 0 1 989.2,1680.6 A13 7.5 60 0 1 998.3,1696.5 Z" transform="translate(10.2 -5.9)"/></g>
<path d="M980,1685.9 L990.2,1680"/>
<path d="M980,1728.5 L990.2,1722.6"/>
<clipPath id="c42"><ellipse rx="13" ry="7.5" transform="translate(989.2 1770.6) rotate(60)"/></clipPath>
<ellipse rx="13" ry="7.5" transform="translate(989.2 1770.6) rotate(60)" fill="#fff"/>
<g clip-path="url(#c42)">
<ellipse rx="13" ry="7.5" transform="translate(999.4 1764.7) rotate(60)"/>
</g>
<clipPath id="c43"><ellipse rx="13" ry="7.5" transform="translate(989.2 1849.8) rotate(60)"/></clipPath>
<ellipse rx="13" ry="7.5" transform="translate(989.2 1849.8) rotate(60)" fill="#fff"/>
<g clip-path="url(#c43)">
<ellipse rx="13" ry="7.5" transform="translate(999.4 1843.9) rotate(60)"/>
</g>
<clipPath id="c44"><path d="M998.3,1934.5 A13 7.5 60 0 1 989.2,1939.8 A13 7.5 60 0 1 980,1923.9 L980,1881.3 A13 7.5 60 0 1 989.2,1876 A13 7.5 60 0 1 998.3,1891.9 Z"/></clipPath>
<path d="M998.3,1934.5 A13 7.5 60 0 1 989.2,1939.8 A13 7.5 60 0 1 980,1923.9 L980,1881.3 A13 7.5 60 0 1 989.2,1876 A13 7.5 60 0 1 998.3,1891.9 Z" fill="#fff"/>
<g clip-path="url(#c44)"><path d="M998.3,1934.5 A13 7.5 60 0 1 989.2,1939.8 A13 7.5 60 0 1 980,1923.9 L980,1881.3 A13 7.5 60 0 1 989.2,1876 A13 7.5 60 0 1 998.3,1891.9 Z" transform="translate(10.2 -5.9)"/></g>
<path d="M980,1881.3 L990.2,1875.4"/>
<path d="M980,1923.9 L990.2,1918"/>
<clipPath id="c45"><path d="M998.3,2013.1 A13 7.5 60 0 1 989.2,2018.4 A13 7.5 60 0 1 980,2002.5 L980,1959.9 A13 7.5 60 0 1 989.2,1954.6 A13 7.5 60 0 1 998.3,1970.5 Z"/></clipPath>
<path d="M998.3,2013.1 A13 7.5 60 0 1 989.2,2018.4 A13 7.5 60 0 1 980,2002.5 L980,1959.9 A13 7.5 60 0 1 989.2,1954.6 A13 7.5 60 0 1 998.3,1970.5 Z" fill="#fff"/>
<g clip-path="url(#c45)"><path d="M998.3,2013.1 A13 7.5 60 0 1 989.2,2018.4 A13 7.5 60 0 1 980,2002.5 L980,1959.9 A13 7.5 60 0 1 989.2,1954.6 A13 7.5 60 0 1 998.3,1970.5 Z" transform="translate(10.2 -5.9)"/></g>
<path d="M980,1959.9 L990.2,1954"/>
<path d="M980,2002.5 L990.2,1996.6"/>
<clipPath id="c46"><ellipse rx="13" ry="7.5" transform="translate(989.2 2044.6) rotate(60)"/></clipPath>
<ellipse rx="13" ry="7.5" transform="translate(989.2 2044.6) rotate(60)" fill="#fff"/>
<g clip-path="url(#c46)">
<ellipse rx="13" ry="7.5" transform="translate(999.4 2038.7) rotate(60)"/>
</g>
<path d="M1024.2,1557 L1034.5,1551 L1034.5,2098.1 L1024.2,2103.9 Z" fill="#fff"/>
<g stroke-width="1.8">
<path d="M770.6,1703.2 L808.8,1680.9 M820.9,1673.9 L835.2,1665.6 M847.3,1658.5 L912.5,1620.5 M924.6,1613.4 L938.8,1605.1 M950.9,1598.1 L989.2,1575.8"/>
</g>
<path d="M760.8,1698.7 L766.2,1695.6 A8.8 5.1 60 0 1 775,1700.7 A8.8 5.1 60 0 1 775,1710.8 L769.6,1713.9 A8.8 5.1 60 0 1 760.8,1708.8 A8.8 5.1 60 0 1 760.8,1698.7 Z" fill="#fff"/>
<path d="M760.8,1698.7 A8.8 5.1 60 0 1 769.6,1703.8 A8.8 5.1 60 0 1 769.6,1713.9"/>
<path d="M716.5,1720.5 L759.2,1695.9 A12.1 7 60 0 1 771.2,1702.8 A12.1 7 60 0 1 771.2,1716.7 L728.5,1741.4 A12.1 7 60 0 1 716.5,1734.4 A12.1 7 60 0 1 716.5,1720.5 Z" fill="#fff"/>
<path d="M716.5,1720.5 A12.1 7 60 0 1 728.5,1727.5 A12.1 7 60 0 1 728.5,1741.4"/>
<ellipse rx="27.3" ry="15.8" transform="translate(722.5 1731) rotate(60)" fill="#fff"/>
<ellipse rx="27.3" ry="15.8" transform="translate(720.8 1732) rotate(60)" fill="#fff"/>
<ellipse rx="19" ry="11" transform="translate(718.2 1733.5) rotate(60)"/>
<path d="M632.4,1776.9 L715.6,1728.9 A5.2 3 60 0 1 720.8,1731.9 A5.2 3 60 0 1 720.8,1738 L637.6,1786 A5.2 3 60 0 1 632.4,1783 A5.2 3 60 0 1 632.4,1776.9 Z" fill="#fff"/>
<path d="M632.4,1776.9 A5.2 3 60 0 1 637.6,1779.9 A5.2 3 60 0 1 637.6,1786"/>
<ellipse rx="3.2" ry="1.8" transform="translate(635 1781.5) rotate(60)"/>
<g stroke-width="1.8">
<path d="M770.6,1898 L808.8,1875.7 M820.9,1868.7 L835.2,1860.4 M847.3,1853.3 L912.5,1815.3 M924.6,1808.2 L938.8,1799.9 M950.9,1792.9 L989.2,1770.6"/>
</g>
<path d="M760.8,1893.5 L766.2,1890.4 A8.8 5.1 60 0 1 775,1895.5 A8.8 5.1 60 0 1 775,1905.6 L769.6,1908.7 A8.8 5.1 60 0 1 760.8,1903.6 A8.8 5.1 60 0 1 760.8,1893.5 Z" fill="#fff"/>
<path d="M760.8,1893.5 A8.8 5.1 60 0 1 769.6,1898.6 A8.8 5.1 60 0 1 769.6,1908.7"/>
<path d="M716.5,1915.3 L759.2,1890.7 A12.1 7 60 0 1 771.2,1897.6 A12.1 7 60 0 1 771.2,1911.5 L728.5,1936.2 A12.1 7 60 0 1 716.5,1929.2 A12.1 7 60 0 1 716.5,1915.3 Z" fill="#fff"/>
<path d="M716.5,1915.3 A12.1 7 60 0 1 728.5,1922.3 A12.1 7 60 0 1 728.5,1936.2"/>
<ellipse rx="27.3" ry="15.8" transform="translate(722.5 1925.8) rotate(60)" fill="#fff"/>
<ellipse rx="27.3" ry="15.8" transform="translate(720.8 1926.8) rotate(60)" fill="#fff"/>
<ellipse rx="19" ry="11" transform="translate(718.2 1928.3) rotate(60)"/>
<path d="M632.4,1971.7 L715.6,1923.7 A5.2 3 60 0 1 720.8,1926.7 A5.2 3 60 0 1 720.8,1932.8 L637.6,1980.8 A5.2 3 60 0 1 632.4,1977.8 A5.2 3 60 0 1 632.4,1971.7 Z" fill="#fff"/>
<path d="M632.4,1971.7 A5.2 3 60 0 1 637.6,1974.7 A5.2 3 60 0 1 637.6,1980.8"/>
<ellipse rx="3.2" ry="1.8" transform="translate(635 1976.3) rotate(60)"/>
<g stroke-width="1.8">
<path d="M770.6,1977.2 L808.8,1954.9 M820.9,1947.9 L835.2,1939.6 M847.3,1932.5 L912.5,1894.5 M924.6,1887.4 L938.8,1879.1 M950.9,1872.1 L989.2,1849.8"/>
</g>
<path d="M760.8,1972.7 L766.2,1969.6 A8.8 5.1 60 0 1 775,1974.7 A8.8 5.1 60 0 1 775,1984.8 L769.6,1987.9 A8.8 5.1 60 0 1 760.8,1982.8 A8.8 5.1 60 0 1 760.8,1972.7 Z" fill="#fff"/>
<path d="M760.8,1972.7 A8.8 5.1 60 0 1 769.6,1977.8 A8.8 5.1 60 0 1 769.6,1987.9"/>
<path d="M716.5,1994.5 L759.2,1969.9 A12.1 7 60 0 1 771.2,1976.8 A12.1 7 60 0 1 771.2,1990.7 L728.5,2015.4 A12.1 7 60 0 1 716.5,2008.4 A12.1 7 60 0 1 716.5,1994.5 Z" fill="#fff"/>
<path d="M716.5,1994.5 A12.1 7 60 0 1 728.5,2001.5 A12.1 7 60 0 1 728.5,2015.4"/>
<ellipse rx="27.3" ry="15.8" transform="translate(722.5 2005) rotate(60)" fill="#fff"/>
<ellipse rx="27.3" ry="15.8" transform="translate(720.8 2006) rotate(60)" fill="#fff"/>
<ellipse rx="19" ry="11" transform="translate(718.2 2007.5) rotate(60)"/>
<path d="M632.4,2050.9 L715.6,2002.9 A5.2 3 60 0 1 720.8,2005.9 A5.2 3 60 0 1 720.8,2012 L637.6,2060 A5.2 3 60 0 1 632.4,2057 A5.2 3 60 0 1 632.4,2050.9 Z" fill="#fff"/>
<path d="M632.4,2050.9 A5.2 3 60 0 1 637.6,2053.9 A5.2 3 60 0 1 637.6,2060"/>
<ellipse rx="3.2" ry="1.8" transform="translate(635 2055.5) rotate(60)"/>
<g stroke-width="1.8">
<path d="M770.6,2172 L808.8,2149.7 M820.9,2142.7 L835.2,2134.4 M847.3,2127.3 L912.5,2089.3 M924.6,2082.2 L938.8,2073.9 M950.9,2066.9 L989.2,2044.6"/>
</g>
<path d="M760.8,2167.5 L766.2,2164.4 A8.8 5.1 60 0 1 775,2169.5 A8.8 5.1 60 0 1 775,2179.6 L769.6,2182.7 A8.8 5.1 60 0 1 760.8,2177.6 A8.8 5.1 60 0 1 760.8,2167.5 Z" fill="#fff"/>
<path d="M760.8,2167.5 A8.8 5.1 60 0 1 769.6,2172.6 A8.8 5.1 60 0 1 769.6,2182.7"/>
<path d="M716.5,2189.3 L759.2,2164.7 A12.1 7 60 0 1 771.2,2171.6 A12.1 7 60 0 1 771.2,2185.5 L728.5,2210.2 A12.1 7 60 0 1 716.5,2203.2 A12.1 7 60 0 1 716.5,2189.3 Z" fill="#fff"/>
<path d="M716.5,2189.3 A12.1 7 60 0 1 728.5,2196.3 A12.1 7 60 0 1 728.5,2210.2"/>
<ellipse rx="27.3" ry="15.8" transform="translate(722.5 2199.7) rotate(60)" fill="#fff"/>
<ellipse rx="27.3" ry="15.8" transform="translate(720.8 2200.7) rotate(60)" fill="#fff"/>
<ellipse rx="19" ry="11" transform="translate(718.2 2202.2) rotate(60)"/>
<path d="M632.4,2245.7 L715.6,2197.7 A5.2 3 60 0 1 720.8,2200.7 A5.2 3 60 0 1 720.8,2206.8 L637.6,2254.8 A5.2 3 60 0 1 632.4,2251.8 A5.2 3 60 0 1 632.4,2245.7 Z" fill="#fff"/>
<path d="M632.4,2245.7 A5.2 3 60 0 1 637.6,2248.7 A5.2 3 60 0 1 637.6,2254.8"/>
<ellipse rx="3.2" ry="1.8" transform="translate(635 2250.2) rotate(60)"/>
<path d="M1310.6,1957.6 L1301.9,1952.6 A62.5 36.1 -60 0 1 1301.9,1880.5 A62.5 36.1 -60 0 1 1364.4,1844.4 L1373,1849.4 A62.5 36.1 -60 0 0 1310.6,1885.5 A62.5 36.1 -60 0 0 1310.6,1957.6 Z" fill="#fff"/>
<ellipse rx="62.5" ry="36.1" transform="translate(1341.8 1903.5) rotate(-60)" fill="#fff"/>
<clipPath id="c47"><ellipse rx="29" ry="16.8" transform="translate(1341.8 1903.5) rotate(-60)"/></clipPath>
<ellipse rx="29" ry="16.8" transform="translate(1341.8 1903.5) rotate(-60)" fill="#fff"/>
<g clip-path="url(#c47)">
<ellipse rx="29" ry="16.8" transform="translate(1333.1 1898.5) rotate(-60)"/>
</g>
<path d="M1764.7,2174.5 L1504.3,2024.2 A22.8 13.2 -60 0 1 1504.3,1997.9 A22.8 13.2 -60 0 1 1527.1,1984.8 L1787.4,2135.1 A22.8 13.2 -60 0 1 1787.4,2161.4 A22.8 13.2 -60 0 1 1764.7,2174.5 Z" fill="#fff"/>
<path d="M1513.2,2025 A19.1 11 -60 0 1 1514,2003.5 A19.1 11 -60 0 1 1532.2,1992"/>
<path d="M1511,2029.1 A23.6 13.6 -60 0 1 1506.8,2012.6 A23.6 13.6 -60 0 1 1519.1,1992 A23.6 13.6 -60 0 1 1535.3,1988.5" stroke-width="3.4"/>
<path d="M1514.8,2030.7 A23.1 13.4 -60 0 1 1515.4,2003.8 A23.1 13.4 -60 0 1 1538.3,1990.8" stroke-width="1.3"/>
<path d="M1527.9,2038.8 A23.6 13.6 -60 0 1 1523.7,2022.3 A23.6 13.6 -60 0 1 1536,2001.7 A23.6 13.6 -60 0 1 1552.1,1998.3" stroke-width="3.4"/>
<path d="M1531.6,2040.4 A23.1 13.4 -60 0 1 1532.2,2013.6 A23.1 13.4 -60 0 1 1555.2,2000.6" stroke-width="1.3"/>
<path d="M1544.8,2048.6 A23.6 13.6 -60 0 1 1540.5,2032.1 A23.6 13.6 -60 0 1 1552.8,2011.5 A23.6 13.6 -60 0 1 1569,2008" stroke-width="3.4"/>
<path d="M1548.5,2050.2 A23.1 13.4 -60 0 1 1549.1,2023.3 A23.1 13.4 -60 0 1 1572.1,2010.3" stroke-width="1.3"/>
<path d="M1561.7,2058.3 A23.6 13.6 -60 0 1 1557.4,2041.8 A23.6 13.6 -60 0 1 1569.7,2021.2 A23.6 13.6 -60 0 1 1585.9,2017.8" stroke-width="3.4"/>
<path d="M1565.4,2059.9 A23.1 13.4 -60 0 1 1566,2033.1 A23.1 13.4 -60 0 1 1589,2020.1" stroke-width="1.3"/>
<path d="M1578.6,2068.1 A23.6 13.6 -60 0 1 1574.3,2051.6 A23.6 13.6 -60 0 1 1586.6,2031 A23.6 13.6 -60 0 1 1602.8,2027.5" stroke-width="3.4"/>
<path d="M1582.3,2069.7 A23.1 13.4 -60 0 1 1582.9,2042.8 A23.1 13.4 -60 0 1 1605.9,2029.8" stroke-width="1.3"/>
<path d="M1595.5,2077.8 A23.6 13.6 -60 0 1 1591.2,2061.3 A23.6 13.6 -60 0 1 1603.5,2040.7 A23.6 13.6 -60 0 1 1619.7,2037.3" stroke-width="3.4"/>
<path d="M1599.2,2079.4 A23.1 13.4 -60 0 1 1599.8,2052.6 A23.1 13.4 -60 0 1 1622.7,2039.6" stroke-width="1.3"/>
<path d="M1612.3,2087.6 A23.6 13.6 -60 0 1 1608.1,2071.1 A23.6 13.6 -60 0 1 1620.4,2050.5 A23.6 13.6 -60 0 1 1636.6,2047" stroke-width="3.4"/>
<path d="M1616.1,2089.2 A23.1 13.4 -60 0 1 1616.7,2062.3 A23.1 13.4 -60 0 1 1639.6,2049.3" stroke-width="1.3"/>
<path d="M1629.2,2097.3 A23.6 13.6 -60 0 1 1625,2080.8 A23.6 13.6 -60 0 1 1637.3,2060.2 A23.6 13.6 -60 0 1 1653.5,2056.8" stroke-width="3.4"/>
<path d="M1633,2098.9 A23.1 13.4 -60 0 1 1633.6,2072.1 A23.1 13.4 -60 0 1 1656.5,2059.1" stroke-width="1.3"/>
<path d="M1646.1,2107.1 A23.6 13.6 -60 0 1 1641.9,2090.6 A23.6 13.6 -60 0 1 1654.2,2070 A23.6 13.6 -60 0 1 1670.4,2066.5" stroke-width="3.4"/>
<path d="M1649.9,2108.7 A23.1 13.4 -60 0 1 1650.5,2081.8 A23.1 13.4 -60 0 1 1673.4,2068.8" stroke-width="1.3"/>
<path d="M1663,2116.8 A23.6 13.6 -60 0 1 1658.8,2100.3 A23.6 13.6 -60 0 1 1671.1,2079.7 A23.6 13.6 -60 0 1 1687.2,2076.3" stroke-width="3.4"/>
<path d="M1666.7,2118.4 A23.1 13.4 -60 0 1 1667.3,2091.6 A23.1 13.4 -60 0 1 1690.3,2078.6" stroke-width="1.3"/>
<path d="M1517.5,2023.5 L1520.2,2025.1 L1522.8,2031.1 L1526.3,2033.1 L1528.9,2030.1 L1537.1,2034.8 L1539.7,2040.8 L1543.2,2042.8 L1545.8,2039.8 L1554,2044.6 L1556.6,2050.6 L1560.1,2052.6 L1562.7,2049.6 L1570.9,2054.3 L1573.5,2060.3 L1577,2062.3 L1579.6,2059.3 L1587.8,2064.1 L1590.4,2070.1 L1593.8,2072.1 L1596.4,2069.1 L1604.7,2073.8 L1607.3,2079.8 L1610.7,2081.8 L1613.3,2078.8 L1621.6,2083.6 L1624.2,2089.6 L1627.6,2091.6 L1630.2,2088.6 L1638.4,2093.3 L1641,2099.3 L1644.5,2101.3 L1647.1,2098.3 L1655.3,2103.1 L1657.9,2109.1 L1661.4,2111.1 L1664,2108.1 L1684.6,2120"/>
<path d="M1517.5,2030 L1521.1,2032.1 L1523.7,2036.6 L1527.2,2038.6 L1529.8,2037.1 L1538,2041.8 L1540.6,2046.3 L1544,2048.3 L1546.6,2046.8 L1554.9,2051.6 L1557.5,2056.1 L1560.9,2058.1 L1563.5,2056.6 L1571.8,2061.3 L1574.4,2065.8 L1577.8,2067.8 L1580.4,2066.3 L1588.6,2071.1 L1591.2,2075.6 L1594.7,2077.6 L1597.3,2076.1 L1605.5,2080.8 L1608.1,2085.3 L1611.6,2087.3 L1614.2,2085.8 L1622.4,2090.6 L1625,2095.1 L1628.5,2097.1 L1631.1,2095.6 L1639.3,2100.3 L1641.9,2104.8 L1645.4,2106.8 L1648,2105.3 L1656.2,2110.1 L1658.8,2114.6 L1662.3,2116.6 L1664.9,2115.1 L1674.2,2120.5" stroke-width="1.5"/>
<ellipse cx="1686.6" cy="2121.2" rx="4" ry="2.6" transform="rotate(30 1686.6 2121.2)" />
<path d="M1609.1,2082 Q1619.1,2074 1629.1,2076 Q1639.1,2079 1647.1,2093" stroke-width="1.6"/>
<path d="M1759.4,2195.4 L1753.9,2192.2 A44.3 25.6 -60 0 1 1753.9,2141 A44.3 25.6 -60 0 1 1798.2,2115.4 L1803.8,2118.6 A44.3 25.6 -60 0 1 1803.8,2169.8 A44.3 25.6 -60 0 1 1759.4,2195.4 Z" fill="#fff"/>
<path d="M1759.4,2195.4 A44.3 25.6 -60 0 1 1759.4,2144.2 A44.3 25.6 -60 0 1 1803.8,2118.6"/>
<path d="M1833.1,2205.2 L1773.6,2170.9 A16 9.3 -60 0 1 1773.6,2152.4 A16 9.3 -60 0 1 1789.6,2143.1 L1849.1,2177.5 A16 9.3 -60 0 1 1849.1,2196 A16 9.3 -60 0 1 1833.1,2205.2 Z" fill="#fff"/>
<path d="M1773.6,2170.9 A16 9.3 -60 0 1 1773.6,2152.4 A16 9.3 -60 0 1 1789.6,2143.1"/>
<path d="M1816,2195.4 A16 9.3 -60 0 1 1816,2176.9 A16 9.3 -60 0 1 1832.1,2167.6" stroke-width="1.4"/>
<path d="M1819.5,2197.4 A16 9.3 -60 0 1 1819.5,2178.9 A16 9.3 -60 0 1 1835.5,2169.6" stroke-width="1.4"/>
<path d="M1822.9,2199.4 A16 9.3 -60 0 1 1822.9,2180.9 A16 9.3 -60 0 1 1839,2171.6" stroke-width="1.4"/>
<path d="M1823.3,2232.2 L1818.9,2229.7 A44.3 25.6 -60 0 1 1818.9,2178.6 A44.3 25.6 -60 0 1 1863.3,2153 L1867.6,2155.5 A44.3 25.6 -60 0 1 1867.6,2206.6 A44.3 25.6 -60 0 1 1823.3,2232.2 Z" fill="#fff"/>
<path d="M1823.3,2232.2 A44.3 25.6 -60 0 1 1823.3,2181.1 A44.3 25.6 -60 0 1 1867.6,2155.5"/>
<path d="M1867.4,2197.3 L1845.4,2224.7 L1863.9,2235.3 L1885.8,2208 Z" fill="#fff"/>
<path d="M1867.4,2168 L1867.4,2197.3 L1885.8,2208 L1885.8,2178.7 Z" fill="#fff"/>
<path d="M1845.4,2224.7 L1823.5,2222.7 L1841.9,2233.3 L1863.9,2235.3 Z" fill="#fff"/>
<path d="M1845.4,2166 L1867.4,2168 L1885.8,2178.7 L1863.9,2176.7 Z" fill="#fff"/>
<path d="M1823.5,2222.7 L1823.5,2193.4 L1841.9,2204 L1841.9,2233.3 Z" fill="#fff"/>
<path d="M1823.5,2193.4 L1845.4,2166 L1863.9,2176.7 L1841.9,2204 Z" fill="#fff"/>
<path d="M1885.8,2208 L1863.9,2235.3 L1841.9,2233.3 L1841.9,2204 L1863.9,2176.7 L1885.8,2178.7 Z" fill="#fff"/>
<path d="M2079,2036.5 L1917.9,1943.5 Q1915.3,1942 1917.9,1940.5 L2081.6,1846 Q2084.2,1844.5 2086.8,1846 L2247.9,1939 Z" fill="#fff"/>
<path d="M1925.7,1942 L2084.2,1850.5 L2242.7,1942 L2084.2,2033.5 Z" fill="#fff"/>
<path d="M2084.2,1850.5 L2084.2,2033.5" stroke-width="3.6"/>
<path d="M1915.3,1943.5 L2079,2036.5 L2079,2819.5 L1915.3,2725 Z" fill="#fff"/>
<path d="M1918.9,1945.5 L1918.9,2727.1" stroke-width="1.4"/>
<path d="M2063.3,2045.5 L2069.2,2048.9 L2069.2,2831.9 L2063.3,2828.6 Z" fill="#fff"/>
<path d="M2069.2,2048.9 L2162.4,1995.2 L2162.4,2774.2 L2162.4,2778.2 L2069.2,2831.9 Z" fill="#fff"/>
<path d="M2175.6,1987.6 L2269.4,1933.4 L2269.4,2716.4 L2175.6,2770.6 Z" fill="#fff"/>
<path d="M2162.4,1995.2 L2167.2,1989.4 L2167.2,2770.4 L2162.4,2774.2 Z" fill="#fff" stroke-width="1.4"/>
<path d="M2168.5,1988.2 L2168.5,2769.2" stroke-width="3" stroke="#888" stroke-linecap="butt"/>
<path d="M2172.5,1985.8 L2172.5,2767.8" stroke-width="5" stroke-linecap="butt"/>
<path d="M2065.9,2044 L2152.2,1994.2 Q2153.9,1988.7 2157.7,1985.5 Q2170.4,1978.8 2180.8,1977.8 L2261,1931.5 Q2263.6,1930 2266.2,1931.5 L2269.4,1933.4 L2175.6,1987.6 L2175.6,1984.1 L2167.2,1987.4 L2161.5,1990.2 L2160.7,1992.7 L2162.4,1994.2 L2162.4,1995.2 L2069.2,2048.9 Q2063.3,2045.5 2065.9,2044 Z" fill="#fff"/>
</g>
<text font-family="Liberation Sans, sans-serif" font-size="47.5" stroke="#000" stroke-width="0.4" y="1001.6"><tspan x="562.9" textLength="71.3" lengthAdjust="spacingAndGlyphs">1.12</tspan></text>
<path d="M543.4,1086.1 L561.7,1010.7 L561.7,1010.7 L631.2,1010.7" stroke="#000" stroke-width="2" fill="none"/>
<circle cx="543.4" cy="1086.1" r="4.5" fill="#000"/>
<text font-family="Liberation Sans, sans-serif" font-size="47.5" stroke="#000" stroke-width="0.4" y="1234.9"><tspan x="1025.3" textLength="53.5" lengthAdjust="spacingAndGlyphs">1.7</tspan></text>
<path d="M952.6,1336.2 L1025,1243 L1025,1243 L1075.8,1243" stroke="#000" stroke-width="2" fill="none"/>
<circle cx="952.6" cy="1336.2" r="4.5" fill="#000"/>
<text font-family="Liberation Sans, sans-serif" font-size="47.5" stroke="#000" stroke-width="0.4" y="1927.7"><tspan x="1447.3" textLength="54.3" lengthAdjust="spacingAndGlyphs">9.1</tspan></text>
<path d="M1374.6,1886.8 L1447,1935.1 L1447,1935.1 L1498.6,1935.1" stroke="#000" stroke-width="2" fill="none"/>
<circle cx="1374.6" cy="1886.8" r="4.5" fill="#000"/>
<text font-family="Liberation Sans, sans-serif" font-size="47.5" stroke="#000" stroke-width="0.4" y="1925.7"><tspan x="1556.9" textLength="61.7" lengthAdjust="spacingAndGlyphs">9.3</tspan></text>
<path d="M1533.2,2002.9 L1557,1935.1 L1557,1935.1 L1615.6,1935.1" stroke="#000" stroke-width="2" fill="none"/>
<circle cx="1533.2" cy="2002.9" r="4.5" fill="#000"/>
<text font-family="Liberation Sans, sans-serif" font-size="47.5" stroke="#000" stroke-width="0.4" y="2274.3"><tspan x="797.6" textLength="60.8" lengthAdjust="spacingAndGlyphs">9.2</tspan></text>
<path d="M753.7,2184.1 L796.4,2282.5 L796.4,2282.5 L855.4,2282.5" stroke="#000" stroke-width="2" fill="none"/>
<circle cx="753.7" cy="2184.1" r="4.5" fill="#000"/>
<text font-family="Liberation Sans, sans-serif" font-size="47.5" stroke="#000" stroke-width="0.4" y="1813.2"><tspan x="2202.8" textLength="77.4" lengthAdjust="spacingAndGlyphs">2.13</tspan></text>
<path d="M2156,1923 L2201.3,1821.3 L2201.3,1821.3 L2277.2,1821.3" stroke="#000" stroke-width="2" fill="none"/>
<circle cx="2156" cy="1923" r="4.5" fill="#000"/>
</svg>
</body></html>
